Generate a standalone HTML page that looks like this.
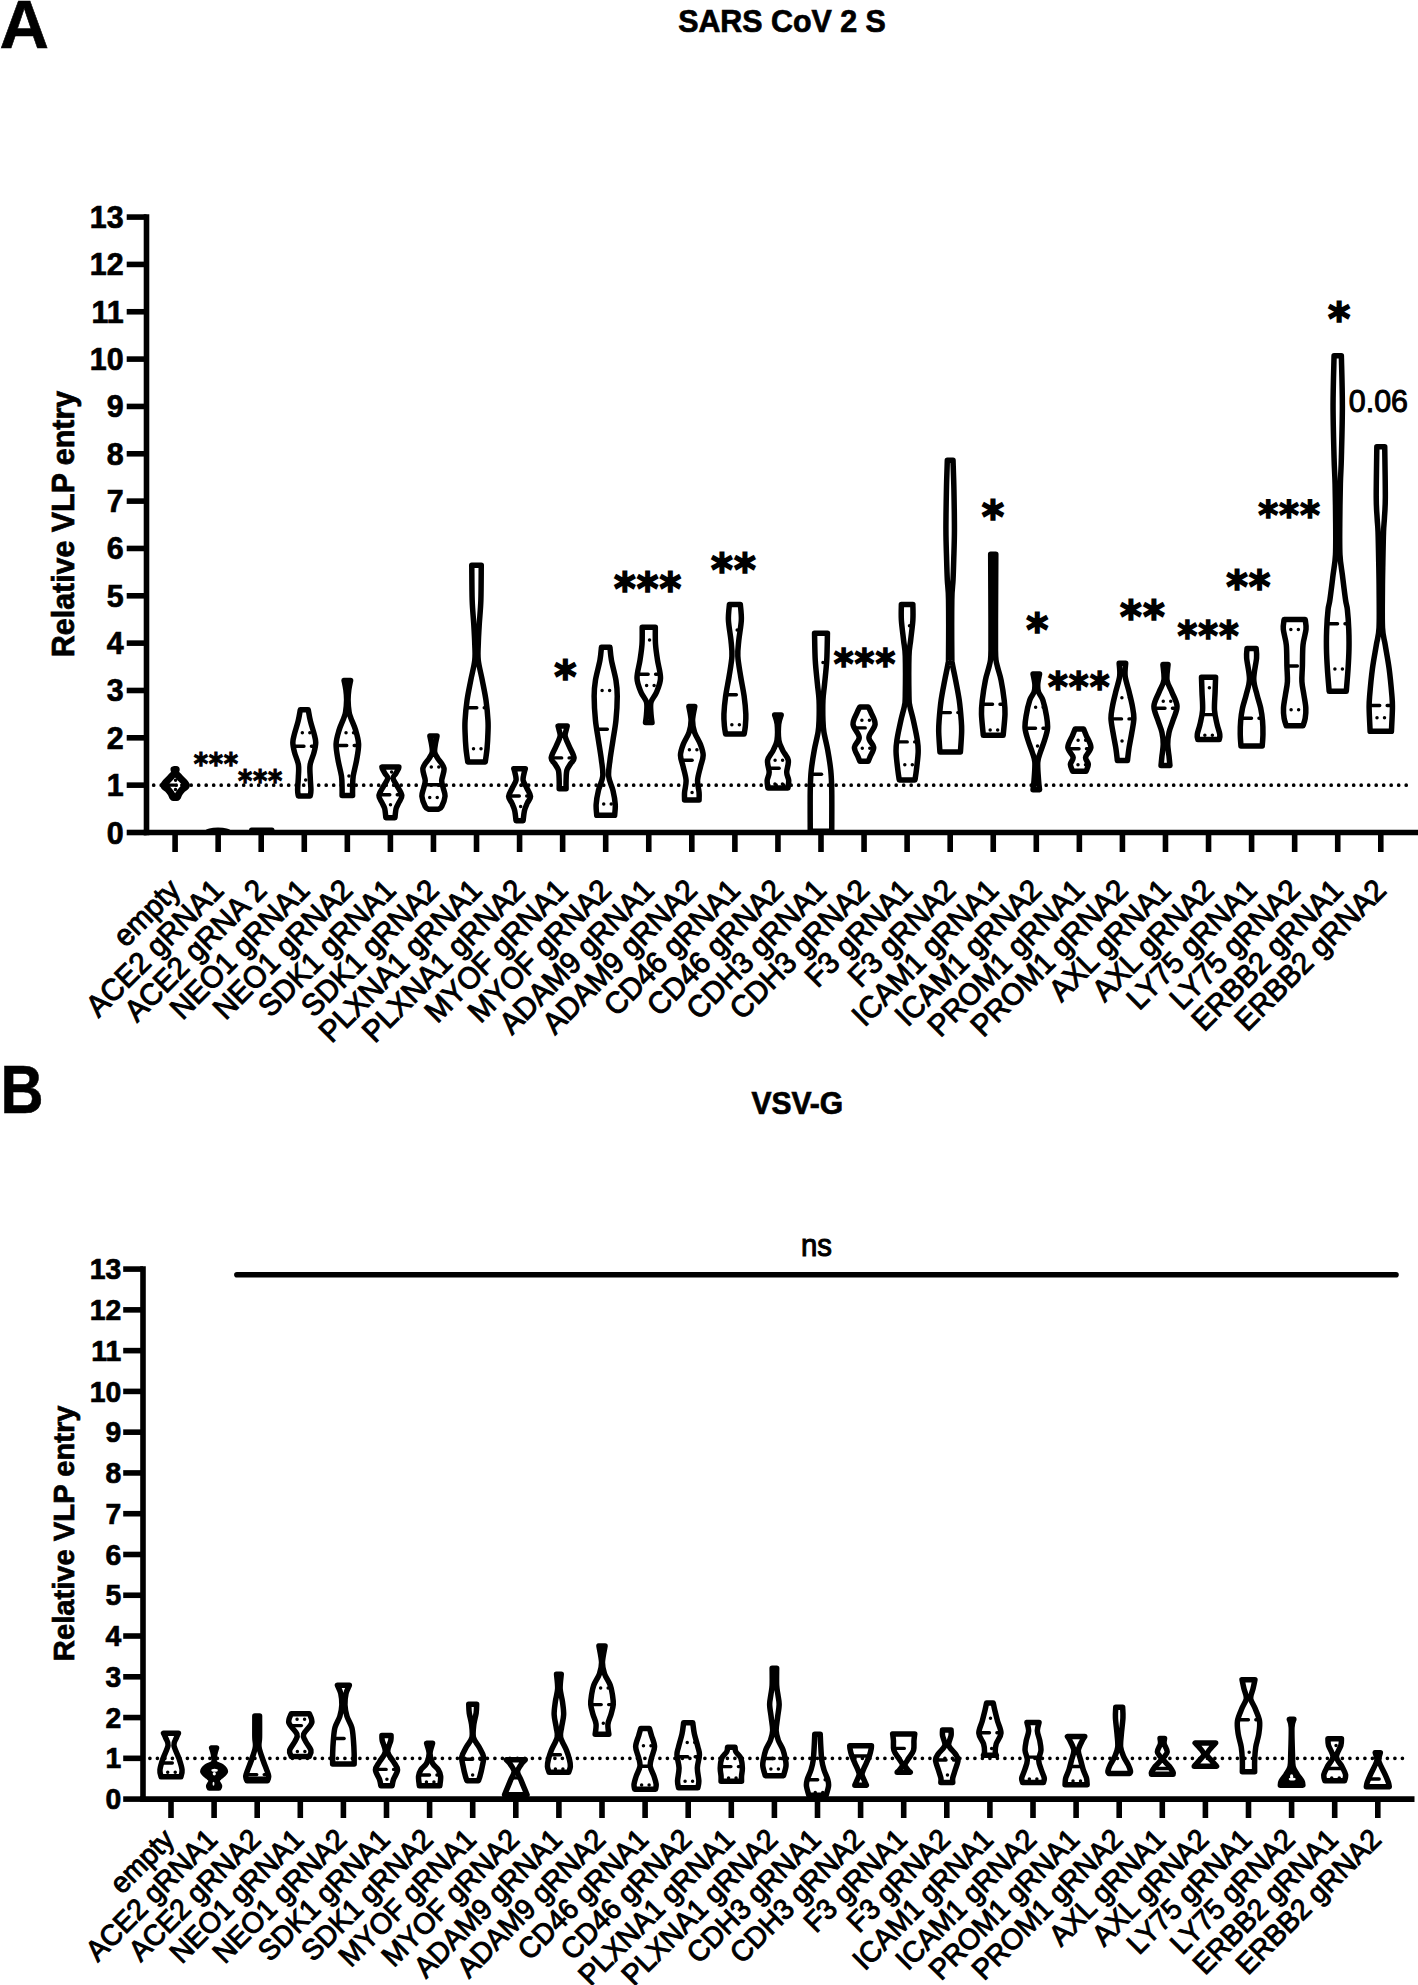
<!DOCTYPE html>
<html lang="en"><head><meta charset="utf-8"><title>Relative VLP entry</title>
<style>
html,body{margin:0;padding:0;background:#fff;}
body{width:1418px;height:1985px;overflow:hidden;}
svg{display:block;}
text{font-family:"Liberation Sans",sans-serif;fill:#000;}
.b{font-weight:700;font-size:30.4px;stroke:#000;stroke-width:0.7px;}
.r{font-weight:400;font-size:29.3px;stroke:#000;stroke-width:1px;}
.rb{font-size:28.1px;}
.bb{font-size:29.2px;}
.tb{font-size:28.3px;}
.pl{font-weight:700;font-size:68.5px;stroke:#000;stroke-width:0.6px;}
.st{font-family:"DejaVu Sans","Liberation Sans",sans-serif;font-weight:700;stroke:#000;stroke-linejoin:miter;}
.ax{stroke:#000;stroke-width:5.6;fill:none;}
.dot{stroke:#000;stroke-width:3.7;stroke-linecap:round;stroke-dasharray:0 7.5;fill:none;}
.v{stroke:#000;stroke-linejoin:round;}
.v{fill:none;}
.med{stroke:#000;stroke-width:3.4;stroke-linecap:round;}
.qd{stroke:#000;stroke-width:3.5;stroke-linecap:round;stroke-dasharray:0 7.5;}
</style></head><body>
<svg width="1418" height="1985" viewBox="0 0 1418 1985">
<rect width="1418" height="1985" fill="#fff"/>
<text x="-0.6" y="48" class="pl">A</text>
<text transform="translate(0.5 1113.3) scale(0.87 1)" class="pl">B</text>
<text transform="translate(782 32.2) scale(1 1.04)" class="b" text-anchor="middle">SARS CoV 2 S</text>
<text transform="translate(797.3 1113.6) scale(1 1.04)" class="b" style="font-size:30px" text-anchor="middle">VSV-G</text>
<line x1="146.5" y1="214.28" x2="146.5" y2="835.3" class="ax"/>
<line x1="143.7" y1="832.5" x2="1418" y2="832.5" class="ax"/>
<line x1="126.7" y1="832.5" x2="146.5" y2="832.5" class="ax"/>
<text transform="translate(123.6 843.5) scale(1 1.04)" class="b" text-anchor="end">0</text>
<line x1="126.7" y1="785.16" x2="146.5" y2="785.16" class="ax"/>
<text transform="translate(123.6 796.16) scale(1 1.04)" class="b" text-anchor="end">1</text>
<line x1="126.7" y1="737.82" x2="146.5" y2="737.82" class="ax"/>
<text transform="translate(123.6 748.82) scale(1 1.04)" class="b" text-anchor="end">2</text>
<line x1="126.7" y1="690.48" x2="146.5" y2="690.48" class="ax"/>
<text transform="translate(123.6 701.48) scale(1 1.04)" class="b" text-anchor="end">3</text>
<line x1="126.7" y1="643.14" x2="146.5" y2="643.14" class="ax"/>
<text transform="translate(123.6 654.14) scale(1 1.04)" class="b" text-anchor="end">4</text>
<line x1="126.7" y1="595.8" x2="146.5" y2="595.8" class="ax"/>
<text transform="translate(123.6 606.8) scale(1 1.04)" class="b" text-anchor="end">5</text>
<line x1="126.7" y1="548.46" x2="146.5" y2="548.46" class="ax"/>
<text transform="translate(123.6 559.46) scale(1 1.04)" class="b" text-anchor="end">6</text>
<line x1="126.7" y1="501.12" x2="146.5" y2="501.12" class="ax"/>
<text transform="translate(123.6 512.12) scale(1 1.04)" class="b" text-anchor="end">7</text>
<line x1="126.7" y1="453.78" x2="146.5" y2="453.78" class="ax"/>
<text transform="translate(123.6 464.78) scale(1 1.04)" class="b" text-anchor="end">8</text>
<line x1="126.7" y1="406.44" x2="146.5" y2="406.44" class="ax"/>
<text transform="translate(123.6 417.44) scale(1 1.04)" class="b" text-anchor="end">9</text>
<line x1="126.7" y1="359.1" x2="146.5" y2="359.1" class="ax"/>
<text transform="translate(123.6 370.1) scale(1 1.04)" class="b" text-anchor="end">10</text>
<line x1="126.7" y1="311.76" x2="146.5" y2="311.76" class="ax"/>
<text transform="translate(123.6 322.76) scale(1 1.04)" class="b" text-anchor="end">11</text>
<line x1="126.7" y1="264.42" x2="146.5" y2="264.42" class="ax"/>
<text transform="translate(123.6 275.42) scale(1 1.04)" class="b" text-anchor="end">12</text>
<line x1="126.7" y1="217.08" x2="146.5" y2="217.08" class="ax"/>
<text transform="translate(123.6 228.08) scale(1 1.04)" class="b" text-anchor="end">13</text>
<line x1="175.1" y1="832.5" x2="175.1" y2="852" class="ax"/>
<text transform="translate(182.1 892) rotate(-45) scale(1 1.04)" class="r" text-anchor="end">empty</text>
<line x1="218.16" y1="832.5" x2="218.16" y2="852" class="ax"/>
<text transform="translate(225.16 892) rotate(-45) scale(1 1.04)" class="r" text-anchor="end">ACE2 gRNA1</text>
<line x1="261.22" y1="832.5" x2="261.22" y2="852" class="ax"/>
<text transform="translate(268.22 892) rotate(-45) scale(1 1.04)" class="r" text-anchor="end">ACE2 gRNA 2</text>
<line x1="304.28" y1="832.5" x2="304.28" y2="852" class="ax"/>
<text transform="translate(311.28 892) rotate(-45) scale(1 1.04)" class="r" text-anchor="end">NEO1 gRNA1</text>
<line x1="347.34" y1="832.5" x2="347.34" y2="852" class="ax"/>
<text transform="translate(354.34 892) rotate(-45) scale(1 1.04)" class="r" text-anchor="end">NEO1 gRNA2</text>
<line x1="390.4" y1="832.5" x2="390.4" y2="852" class="ax"/>
<text transform="translate(397.4 892) rotate(-45) scale(1 1.04)" class="r" text-anchor="end">SDK1 gRNA1</text>
<line x1="433.46" y1="832.5" x2="433.46" y2="852" class="ax"/>
<text transform="translate(440.46 892) rotate(-45) scale(1 1.04)" class="r" text-anchor="end">SDK1 gRNA2</text>
<line x1="476.52" y1="832.5" x2="476.52" y2="852" class="ax"/>
<text transform="translate(483.52 892) rotate(-45) scale(1 1.04)" class="r" text-anchor="end">PLXNA1 gRNA1</text>
<line x1="519.58" y1="832.5" x2="519.58" y2="852" class="ax"/>
<text transform="translate(526.58 892) rotate(-45) scale(1 1.04)" class="r" text-anchor="end">PLXNA1 gRNA2</text>
<line x1="562.64" y1="832.5" x2="562.64" y2="852" class="ax"/>
<text transform="translate(569.64 892) rotate(-45) scale(1 1.04)" class="r" text-anchor="end">MYOF gRNA1</text>
<line x1="605.7" y1="832.5" x2="605.7" y2="852" class="ax"/>
<text transform="translate(612.7 892) rotate(-45) scale(1 1.04)" class="r" text-anchor="end">MYOF gRNA2</text>
<line x1="648.76" y1="832.5" x2="648.76" y2="852" class="ax"/>
<text transform="translate(655.76 892) rotate(-45) scale(1 1.04)" class="r" text-anchor="end">ADAM9 gRNA1</text>
<line x1="691.82" y1="832.5" x2="691.82" y2="852" class="ax"/>
<text transform="translate(698.82 892) rotate(-45) scale(1 1.04)" class="r" text-anchor="end">ADAM9 gRNA2</text>
<line x1="734.88" y1="832.5" x2="734.88" y2="852" class="ax"/>
<text transform="translate(741.88 892) rotate(-45) scale(1 1.04)" class="r" text-anchor="end">CD46 gRNA1</text>
<line x1="777.94" y1="832.5" x2="777.94" y2="852" class="ax"/>
<text transform="translate(784.94 892) rotate(-45) scale(1 1.04)" class="r" text-anchor="end">CD46 gRNA2</text>
<line x1="821" y1="832.5" x2="821" y2="852" class="ax"/>
<text transform="translate(828 892) rotate(-45) scale(1 1.04)" class="r" text-anchor="end">CDH3 gRNA1</text>
<line x1="864.06" y1="832.5" x2="864.06" y2="852" class="ax"/>
<text transform="translate(871.06 892) rotate(-45) scale(1 1.04)" class="r" text-anchor="end">CDH3 gRNA2</text>
<line x1="907.12" y1="832.5" x2="907.12" y2="852" class="ax"/>
<text transform="translate(914.12 892) rotate(-45) scale(1 1.04)" class="r" text-anchor="end">F3 gRNA1</text>
<line x1="950.18" y1="832.5" x2="950.18" y2="852" class="ax"/>
<text transform="translate(957.18 892) rotate(-45) scale(1 1.04)" class="r" text-anchor="end">F3 gRNA2</text>
<line x1="993.24" y1="832.5" x2="993.24" y2="852" class="ax"/>
<text transform="translate(1000.24 892) rotate(-45) scale(1 1.04)" class="r" text-anchor="end">ICAM1 gRNA1</text>
<line x1="1036.3" y1="832.5" x2="1036.3" y2="852" class="ax"/>
<text transform="translate(1043.3 892) rotate(-45) scale(1 1.04)" class="r" text-anchor="end">ICAM1 gRNA2</text>
<line x1="1079.36" y1="832.5" x2="1079.36" y2="852" class="ax"/>
<text transform="translate(1086.36 892) rotate(-45) scale(1 1.04)" class="r" text-anchor="end">PROM1 gRNA1</text>
<line x1="1122.42" y1="832.5" x2="1122.42" y2="852" class="ax"/>
<text transform="translate(1129.42 892) rotate(-45) scale(1 1.04)" class="r" text-anchor="end">PROM1 gRNA2</text>
<line x1="1165.48" y1="832.5" x2="1165.48" y2="852" class="ax"/>
<text transform="translate(1172.48 892) rotate(-45) scale(1 1.04)" class="r" text-anchor="end">AXL gRNA1</text>
<line x1="1208.54" y1="832.5" x2="1208.54" y2="852" class="ax"/>
<text transform="translate(1215.54 892) rotate(-45) scale(1 1.04)" class="r" text-anchor="end">AXL gRNA2</text>
<line x1="1251.6" y1="832.5" x2="1251.6" y2="852" class="ax"/>
<text transform="translate(1258.6 892) rotate(-45) scale(1 1.04)" class="r" text-anchor="end">LY75 gRNA1</text>
<line x1="1294.66" y1="832.5" x2="1294.66" y2="852" class="ax"/>
<text transform="translate(1301.66 892) rotate(-45) scale(1 1.04)" class="r" text-anchor="end">LY75 gRNA2</text>
<line x1="1337.72" y1="832.5" x2="1337.72" y2="852" class="ax"/>
<text transform="translate(1344.72 892) rotate(-45) scale(1 1.04)" class="r" text-anchor="end">ERBB2 gRNA1</text>
<line x1="1380.78" y1="832.5" x2="1380.78" y2="852" class="ax"/>
<text transform="translate(1387.78 892) rotate(-45) scale(1 1.04)" class="r" text-anchor="end">ERBB2 gRNA2</text>
<line x1="153.7" y1="785.16" x2="1412.5" y2="785.16" class="dot" stroke-dasharray="0 7.488"/>
<text transform="translate(74 524) rotate(-90) scale(1 1.04)" class="b" text-anchor="middle">Relative VLP entry</text>
<line x1="143" y1="1266.29" x2="143" y2="1801.9" class="ax"/>
<line x1="140.2" y1="1799.1" x2="1414.5" y2="1799.1" class="ax"/>
<line x1="123.2" y1="1799.1" x2="143" y2="1799.1" class="ax"/>
<text transform="translate(121.2 1809.2) scale(1 1.04)" class="b tb" text-anchor="end">0</text>
<line x1="123.2" y1="1758.33" x2="143" y2="1758.33" class="ax"/>
<text transform="translate(121.2 1768.43) scale(1 1.04)" class="b tb" text-anchor="end">1</text>
<line x1="123.2" y1="1717.56" x2="143" y2="1717.56" class="ax"/>
<text transform="translate(121.2 1727.66) scale(1 1.04)" class="b tb" text-anchor="end">2</text>
<line x1="123.2" y1="1676.79" x2="143" y2="1676.79" class="ax"/>
<text transform="translate(121.2 1686.89) scale(1 1.04)" class="b tb" text-anchor="end">3</text>
<line x1="123.2" y1="1636.02" x2="143" y2="1636.02" class="ax"/>
<text transform="translate(121.2 1646.12) scale(1 1.04)" class="b tb" text-anchor="end">4</text>
<line x1="123.2" y1="1595.25" x2="143" y2="1595.25" class="ax"/>
<text transform="translate(121.2 1605.35) scale(1 1.04)" class="b tb" text-anchor="end">5</text>
<line x1="123.2" y1="1554.48" x2="143" y2="1554.48" class="ax"/>
<text transform="translate(121.2 1564.58) scale(1 1.04)" class="b tb" text-anchor="end">6</text>
<line x1="123.2" y1="1513.71" x2="143" y2="1513.71" class="ax"/>
<text transform="translate(121.2 1523.81) scale(1 1.04)" class="b tb" text-anchor="end">7</text>
<line x1="123.2" y1="1472.94" x2="143" y2="1472.94" class="ax"/>
<text transform="translate(121.2 1483.04) scale(1 1.04)" class="b tb" text-anchor="end">8</text>
<line x1="123.2" y1="1432.17" x2="143" y2="1432.17" class="ax"/>
<text transform="translate(121.2 1442.27) scale(1 1.04)" class="b tb" text-anchor="end">9</text>
<line x1="123.2" y1="1391.4" x2="143" y2="1391.4" class="ax"/>
<text transform="translate(121.2 1401.5) scale(1 1.04)" class="b tb" text-anchor="end">10</text>
<line x1="123.2" y1="1350.63" x2="143" y2="1350.63" class="ax"/>
<text transform="translate(121.2 1360.73) scale(1 1.04)" class="b tb" text-anchor="end">11</text>
<line x1="123.2" y1="1309.86" x2="143" y2="1309.86" class="ax"/>
<text transform="translate(121.2 1319.96) scale(1 1.04)" class="b tb" text-anchor="end">12</text>
<line x1="123.2" y1="1269.09" x2="143" y2="1269.09" class="ax"/>
<text transform="translate(121.2 1279.19) scale(1 1.04)" class="b tb" text-anchor="end">13</text>
<line x1="171" y1="1799.1" x2="171" y2="1818" class="ax"/>
<text transform="translate(176 1841.2) rotate(-45) scale(1 1.04)" class="r rb" text-anchor="end">empty</text>
<line x1="214.1" y1="1799.1" x2="214.1" y2="1818" class="ax"/>
<text transform="translate(219.1 1841.2) rotate(-45) scale(1 1.04)" class="r rb" text-anchor="end">ACE2 gRNA1</text>
<line x1="257.2" y1="1799.1" x2="257.2" y2="1818" class="ax"/>
<text transform="translate(262.2 1841.2) rotate(-45) scale(1 1.04)" class="r rb" text-anchor="end">ACE2 gRNA2</text>
<line x1="300.3" y1="1799.1" x2="300.3" y2="1818" class="ax"/>
<text transform="translate(305.3 1841.2) rotate(-45) scale(1 1.04)" class="r rb" text-anchor="end">NEO1 gRNA1</text>
<line x1="343.4" y1="1799.1" x2="343.4" y2="1818" class="ax"/>
<text transform="translate(348.4 1841.2) rotate(-45) scale(1 1.04)" class="r rb" text-anchor="end">NEO1 gRNA2</text>
<line x1="386.5" y1="1799.1" x2="386.5" y2="1818" class="ax"/>
<text transform="translate(391.5 1841.2) rotate(-45) scale(1 1.04)" class="r rb" text-anchor="end">SDK1 gRNA1</text>
<line x1="429.6" y1="1799.1" x2="429.6" y2="1818" class="ax"/>
<text transform="translate(434.6 1841.2) rotate(-45) scale(1 1.04)" class="r rb" text-anchor="end">SDK1 gRNA2</text>
<line x1="472.7" y1="1799.1" x2="472.7" y2="1818" class="ax"/>
<text transform="translate(477.7 1841.2) rotate(-45) scale(1 1.04)" class="r rb" text-anchor="end">MYOF gRNA1</text>
<line x1="515.8" y1="1799.1" x2="515.8" y2="1818" class="ax"/>
<text transform="translate(520.8 1841.2) rotate(-45) scale(1 1.04)" class="r rb" text-anchor="end">MYOF gRNA2</text>
<line x1="558.9" y1="1799.1" x2="558.9" y2="1818" class="ax"/>
<text transform="translate(563.9 1841.2) rotate(-45) scale(1 1.04)" class="r rb" text-anchor="end">ADAM9 gRNA1</text>
<line x1="602" y1="1799.1" x2="602" y2="1818" class="ax"/>
<text transform="translate(607 1841.2) rotate(-45) scale(1 1.04)" class="r rb" text-anchor="end">ADAM9 gRNA2</text>
<line x1="645.1" y1="1799.1" x2="645.1" y2="1818" class="ax"/>
<text transform="translate(650.1 1841.2) rotate(-45) scale(1 1.04)" class="r rb" text-anchor="end">CD46 gRNA1</text>
<line x1="688.2" y1="1799.1" x2="688.2" y2="1818" class="ax"/>
<text transform="translate(693.2 1841.2) rotate(-45) scale(1 1.04)" class="r rb" text-anchor="end">CD46 gRNA2</text>
<line x1="731.3" y1="1799.1" x2="731.3" y2="1818" class="ax"/>
<text transform="translate(736.3 1841.2) rotate(-45) scale(1 1.04)" class="r rb" text-anchor="end">PLXNA1 gRNA1</text>
<line x1="774.4" y1="1799.1" x2="774.4" y2="1818" class="ax"/>
<text transform="translate(779.4 1841.2) rotate(-45) scale(1 1.04)" class="r rb" text-anchor="end">PLXNA1 gRNA2</text>
<line x1="817.5" y1="1799.1" x2="817.5" y2="1818" class="ax"/>
<text transform="translate(822.5 1841.2) rotate(-45) scale(1 1.04)" class="r rb" text-anchor="end">CDH3 gRNA1</text>
<line x1="860.6" y1="1799.1" x2="860.6" y2="1818" class="ax"/>
<text transform="translate(865.6 1841.2) rotate(-45) scale(1 1.04)" class="r rb" text-anchor="end">CDH3 gRNA2</text>
<line x1="903.7" y1="1799.1" x2="903.7" y2="1818" class="ax"/>
<text transform="translate(908.7 1841.2) rotate(-45) scale(1 1.04)" class="r rb" text-anchor="end">F3 gRNA1</text>
<line x1="946.8" y1="1799.1" x2="946.8" y2="1818" class="ax"/>
<text transform="translate(951.8 1841.2) rotate(-45) scale(1 1.04)" class="r rb" text-anchor="end">F3 gRNA2</text>
<line x1="989.9" y1="1799.1" x2="989.9" y2="1818" class="ax"/>
<text transform="translate(994.9 1841.2) rotate(-45) scale(1 1.04)" class="r rb" text-anchor="end">ICAM1 gRNA1</text>
<line x1="1033" y1="1799.1" x2="1033" y2="1818" class="ax"/>
<text transform="translate(1038 1841.2) rotate(-45) scale(1 1.04)" class="r rb" text-anchor="end">ICAM1 gRNA2</text>
<line x1="1076.1" y1="1799.1" x2="1076.1" y2="1818" class="ax"/>
<text transform="translate(1081.1 1841.2) rotate(-45) scale(1 1.04)" class="r rb" text-anchor="end">PROM1 gRNA1</text>
<line x1="1119.2" y1="1799.1" x2="1119.2" y2="1818" class="ax"/>
<text transform="translate(1124.2 1841.2) rotate(-45) scale(1 1.04)" class="r rb" text-anchor="end">PROM1 gRNA2</text>
<line x1="1162.3" y1="1799.1" x2="1162.3" y2="1818" class="ax"/>
<text transform="translate(1167.3 1841.2) rotate(-45) scale(1 1.04)" class="r rb" text-anchor="end">AXL gRNA1</text>
<line x1="1205.4" y1="1799.1" x2="1205.4" y2="1818" class="ax"/>
<text transform="translate(1210.4 1841.2) rotate(-45) scale(1 1.04)" class="r rb" text-anchor="end">AXL gRNA2</text>
<line x1="1248.5" y1="1799.1" x2="1248.5" y2="1818" class="ax"/>
<text transform="translate(1253.5 1841.2) rotate(-45) scale(1 1.04)" class="r rb" text-anchor="end">LY75 gRNA1</text>
<line x1="1291.6" y1="1799.1" x2="1291.6" y2="1818" class="ax"/>
<text transform="translate(1296.6 1841.2) rotate(-45) scale(1 1.04)" class="r rb" text-anchor="end">LY75 gRNA2</text>
<line x1="1334.7" y1="1799.1" x2="1334.7" y2="1818" class="ax"/>
<text transform="translate(1339.7 1841.2) rotate(-45) scale(1 1.04)" class="r rb" text-anchor="end">ERBB2 gRNA1</text>
<line x1="1377.8" y1="1799.1" x2="1377.8" y2="1818" class="ax"/>
<text transform="translate(1382.8 1841.2) rotate(-45) scale(1 1.04)" class="r rb" text-anchor="end">ERBB2 gRNA2</text>
<line x1="149.9" y1="1758.33" x2="1409.8" y2="1758.33" class="dot" stroke-dasharray="0 7.236"/>
<text transform="translate(74.3 1533.3) rotate(-90) scale(1 1.04)" class="b bb" text-anchor="middle">Relative VLP entry</text>
<line x1="236.9" y1="1274.8" x2="1396" y2="1274.8" class="ax" stroke-linecap="round"/>
<text transform="translate(816.5 1256.2) scale(1 1.04)" class="r" text-anchor="middle">ns</text>
<text transform="translate(1348.8 412.3) scale(1 1.04)" class="r" style="font-size:30.4px">0.06</text>
<text transform="translate(193.66 773.63) scale(0.925 1)" font-size="29.56" letter-spacing="0.83" stroke-width="1.1" class="st">***</text>
<text transform="translate(237.96 791.33) scale(0.921 1)" font-size="29.56" letter-spacing="0.84" stroke-width="1.1" class="st">***</text>
<text transform="translate(554.24 691.76) scale(0.961 1)" font-size="44.24" letter-spacing="0" stroke-width="1.65" class="st">*</text>
<text transform="translate(613.94 604.32) scale(0.915 1)" font-size="45.24" letter-spacing="1.29" stroke-width="1.69" class="st">***</text>
<text transform="translate(710.94 584.76) scale(0.944 1)" font-size="44.24" letter-spacing="1.22" stroke-width="1.65" class="st">**</text>
<text transform="translate(833.75 678.12) scale(0.922 1)" font-size="41.02" letter-spacing="1.16" stroke-width="1.53" class="st">***</text>
<text transform="translate(981.64 531.66) scale(0.966 1)" font-size="44.24" letter-spacing="0" stroke-width="1.65" class="st">*</text>
<text transform="translate(1026.14 644.91) scale(0.957 1)" font-size="44.04" letter-spacing="0" stroke-width="1.64" class="st">*</text>
<text transform="translate(1047.95 701.42) scale(0.934 1)" font-size="40.62" letter-spacing="1.13" stroke-width="1.51" class="st">***</text>
<text transform="translate(1120.04 631.66) scale(0.942 1)" font-size="44.24" letter-spacing="1.22" stroke-width="1.65" class="st">**</text>
<text transform="translate(1177.55 649.93) scale(0.910 1)" font-size="41.42" letter-spacing="1.19" stroke-width="1.55" class="st">***</text>
<text transform="translate(1226.14 601.56) scale(0.933 1)" font-size="44.24" letter-spacing="1.23" stroke-width="1.65" class="st">**</text>
<text transform="translate(1258.15 529.15) scale(0.962 1)" font-size="39.61" letter-spacing="1.07" stroke-width="1.48" class="st">***</text>
<text transform="translate(1327.94 334.17) scale(0.944 1)" font-size="45.04" letter-spacing="0" stroke-width="1.68" class="st">*</text>
<ellipse cx="218" cy="830.6" rx="12.5" ry="3"/>
<rect x="249" y="827.4" width="25.5" height="6" rx="2.5"/>
<line x1="163.8" y1="785.1" x2="183.2" y2="785.1" class="med" stroke-dasharray="10.5 7.4"/>
<line x1="168.08" y1="780.2" x2="182.12" y2="780.2" class="qd"/>
<line x1="168" y1="789.5" x2="182.2" y2="789.5" class="qd"/>
<path d="M176.2 769.6C176.17 769.75 176.12 770 176 770.5C175.88 771 174.8 771.35 175.5 772.6C176.2 773.85 178.38 775.92 180.2 778C182.02 780.08 186.07 783.18 186.4 785.1C186.73 787.02 183.43 788.08 182.2 789.5C180.97 790.92 179.77 792.35 179 793.6C178.23 794.85 177.95 796.33 177.6 797C177.25 797.67 177.02 797.5 176.9 797.6L173.3 797.6C173.18 797.5 172.95 797.67 172.6 797C172.25 796.33 171.97 794.85 171.2 793.6C170.43 792.35 169.23 790.92 168 789.5C166.77 788.08 163.47 787.02 163.8 785.1C164.13 783.18 168.18 780.08 170 778C171.82 775.92 174 773.85 174.7 772.6C175.4 771.35 174.32 771 174.2 770.5C174.08 770 174.03 769.75 174 769.6Z" class="v" stroke-width="7.0"/>
<line x1="293.48" y1="746.2" x2="312.63" y2="746.2" class="med" stroke-dasharray="10.5 7.4"/>
<line x1="294.82" y1="732.7" x2="313.74" y2="732.7" class="qd"/>
<line x1="298.18" y1="780.1" x2="310.38" y2="780.1" class="qd"/>
<path d="M308.23 709.65C308.6 711.58 309.46 717.19 310.43 721.2C311.4 725.21 313.15 730.17 314.03 733.7C314.91 737.23 315.73 739.28 315.73 742.4C315.73 745.52 314.96 748.65 314.03 752.4C313.1 756.15 310.76 760.73 310.13 764.9C309.5 769.07 310.1 773.23 310.23 777.4C310.36 781.57 310.93 786.79 310.93 789.9C310.93 793.01 310.35 795.02 310.23 796.05L298.33 796.05C298.21 795.02 297.63 793.01 297.63 789.9C297.63 786.79 298.2 781.57 298.33 777.4C298.46 773.23 299.06 769.07 298.43 764.9C297.8 760.73 295.46 756.15 294.53 752.4C293.6 748.65 292.83 745.52 292.83 742.4C292.83 739.28 293.65 737.23 294.53 733.7C295.41 730.17 297.16 725.21 298.13 721.2C299.1 717.19 299.96 711.58 300.33 709.65Z" class="v" stroke-width="5.5"/>
<line x1="336.26" y1="745.5" x2="355.97" y2="745.5" class="med" stroke-dasharray="10.5 7.4"/>
<line x1="338.53" y1="732.7" x2="356.15" y2="732.7" class="qd"/>
<line x1="341.45" y1="776" x2="353.23" y2="776" class="qd"/>
<path d="M350.59 680.45C350.29 682.04 349.21 686.74 348.79 690C348.37 693.26 348.04 696.33 348.09 700C348.14 703.67 348.62 708.98 349.09 712C349.56 715.02 349.81 715.08 350.89 718.1C351.97 721.12 354.31 725.77 355.59 730.1C356.87 734.43 358.42 739.08 358.59 744.1C358.76 749.12 357.49 754.85 356.59 760.2C355.69 765.55 353.86 771.53 353.19 776.2C352.52 780.87 352.69 784.99 352.59 788.2C352.49 791.41 352.59 794.24 352.59 795.45L342.09 795.45C342.09 794.24 342.19 791.41 342.09 788.2C341.99 784.99 342.16 780.87 341.49 776.2C340.82 771.53 338.99 765.55 338.09 760.2C337.19 754.85 335.92 749.12 336.09 744.1C336.26 739.08 337.81 734.43 339.09 730.1C340.37 725.77 342.71 721.12 343.79 718.1C344.87 715.08 345.12 715.02 345.59 712C346.06 708.98 346.54 703.67 346.59 700C346.64 696.33 346.31 693.26 345.89 690C345.47 686.74 344.39 682.04 344.09 680.45Z" class="v" stroke-width="5.5"/>
<line x1="379.3" y1="794.8" x2="399.05" y2="794.8" class="med" stroke-dasharray="10.5 7.4"/>
<line x1="384.1" y1="771.9" x2="396.7" y2="771.9" class="qd"/>
<line x1="382.98" y1="804.8" x2="397.82" y2="804.8" class="qd"/>
<path d="M398.85 767.05C398.75 767.38 398.75 767.92 398.25 769C397.75 770.08 396.72 771.95 395.85 773.5C394.98 775.05 392.83 776.22 393.05 778.3C393.27 780.38 395.68 783.13 397.15 786C398.62 788.87 401.6 792.67 401.85 795.5C402.1 798.33 399.6 800.85 398.65 803C397.7 805.15 396.77 805.96 396.15 808.4C395.53 810.84 395.15 816.11 394.95 817.65L385.85 817.65C385.65 816.11 385.27 810.84 384.65 808.4C384.03 805.96 383.1 805.15 382.15 803C381.2 800.85 378.7 798.33 378.95 795.5C379.2 792.67 382.18 788.87 383.65 786C385.12 783.13 387.53 780.38 387.75 778.3C387.97 776.22 385.82 775.05 384.95 773.5C384.08 771.95 383.05 770.08 382.55 769C382.05 767.92 382.05 767.38 381.95 767.05Z" class="v" stroke-width="5.5"/>
<line x1="424.35" y1="784.7" x2="442.57" y2="784.7" class="med"/>
<line x1="423.79" y1="766.9" x2="443.13" y2="766.9" class="qd"/>
<line x1="422.24" y1="797.4" x2="444.68" y2="797.4" class="qd"/>
<path d="M437.01 736.05C436.71 737.54 435.59 742.29 435.21 745C434.83 747.71 434.29 750.08 434.71 752.3C435.13 754.52 436.16 755.63 437.71 758.3C439.26 760.97 443.34 764.63 444.01 768.3C444.68 771.97 441.84 777.02 441.71 780.3C441.58 783.58 442.66 785.32 443.21 788C443.76 790.68 445.26 793.33 445.01 796.4C444.76 799.47 442.81 804.26 441.71 806.4C440.61 808.54 438.96 808.77 438.41 809.25L428.51 809.25C427.96 808.77 426.31 808.54 425.21 806.4C424.11 804.26 422.16 799.47 421.91 796.4C421.66 793.33 423.16 790.68 423.71 788C424.26 785.32 425.34 783.58 425.21 780.3C425.08 777.02 422.24 771.97 422.91 768.3C423.58 764.63 427.66 760.97 429.21 758.3C430.76 755.63 431.79 754.52 432.21 752.3C432.63 750.08 432.09 747.71 431.71 745C431.33 742.29 430.21 737.54 429.91 736.05Z" class="v" stroke-width="5.5"/>
<line x1="466.31" y1="707.8" x2="484.28" y2="707.8" class="med" stroke-dasharray="10.5 7.4"/>
<line x1="466.01" y1="748.7" x2="487.03" y2="748.7" class="qd"/>
<path d="M481.27 565.15C481.2 570.98 481.2 590.27 480.87 600.1C480.54 609.93 479.7 616.77 479.27 624.1C478.84 631.43 478.44 638.08 478.27 644.1C478.1 650.12 477.6 654.18 478.27 660.2C478.94 666.22 480.99 673.53 482.27 680.2C483.55 686.87 485.02 693.52 485.97 700.2C486.92 706.88 487.64 714.95 487.97 720.3C488.3 725.65 488.12 727.63 487.97 732.3C487.82 736.97 487.52 743.36 487.07 748.3C486.62 753.24 485.57 759.68 485.27 761.95L467.77 761.95C467.47 759.68 466.42 753.24 465.97 748.3C465.52 743.36 465.22 736.97 465.07 732.3C464.92 727.63 464.74 725.65 465.07 720.3C465.4 714.95 466.12 706.88 467.07 700.2C468.02 693.52 469.49 686.87 470.77 680.2C472.05 673.53 474.1 666.22 474.77 660.2C475.44 654.18 474.94 650.12 474.77 644.1C474.6 638.08 474.2 631.43 473.77 624.1C473.34 616.77 472.5 609.93 472.17 600.1C471.84 590.27 471.84 570.98 471.77 565.15Z" class="v" stroke-width="5.5"/>
<line x1="508.81" y1="796" x2="527.9" y2="796" class="med" stroke-dasharray="10.5 7.4"/>
<line x1="513.63" y1="785.3" x2="525.53" y2="785.3" class="qd"/>
<line x1="513.12" y1="806.4" x2="526.04" y2="806.4" class="qd"/>
<path d="M525.33 768.65C525.13 769.38 524.5 771.06 524.13 773C523.76 774.94 522.68 777.8 523.13 780.3C523.58 782.8 525.6 785.32 526.83 788C528.06 790.68 530.45 793.9 530.53 796.4C530.61 798.9 528.33 800.67 527.33 803C526.33 805.33 525.23 807.46 524.53 810.4C523.83 813.34 523.36 818.94 523.13 820.65L516.03 820.65C515.8 818.94 515.33 813.34 514.63 810.4C513.93 807.46 512.83 805.33 511.83 803C510.83 800.67 508.55 798.9 508.63 796.4C508.71 793.9 511.1 790.68 512.33 788C513.56 785.32 515.58 782.8 516.03 780.3C516.48 777.8 515.4 774.94 515.03 773C514.66 771.06 514.03 769.38 513.83 768.65Z" class="v" stroke-width="5.5"/>
<line x1="551.19" y1="757.9" x2="571.64" y2="757.9" class="med" stroke-dasharray="10.5 7.4"/>
<path d="M567.19 726.05C567.02 726.71 566.52 728.29 566.19 730C565.86 731.71 564.69 733.58 565.19 736.3C565.69 739.02 567.71 742.7 569.19 746.3C570.67 749.9 573.89 754.95 574.09 757.9C574.29 760.85 571.59 761.93 570.39 764C569.19 766.07 567.61 767.58 566.89 770.3C566.17 773.02 566.22 777.24 566.09 780.3C565.96 783.36 566.09 787.26 566.09 788.65L559.19 788.65C559.19 787.26 559.32 783.36 559.19 780.3C559.06 777.24 559.11 773.02 558.39 770.3C557.67 767.58 556.09 766.07 554.89 764C553.69 761.93 550.99 760.85 551.19 757.9C551.39 754.95 554.61 749.9 556.09 746.3C557.57 742.7 559.59 739.02 560.09 736.3C560.59 733.58 559.42 731.71 559.09 730C558.76 728.29 558.26 726.71 558.09 726.05Z" class="v" stroke-width="5.5"/>
<line x1="596.8" y1="729.3" x2="612.15" y2="729.3" class="med" stroke-dasharray="10.5 7.4"/>
<line x1="594.61" y1="690.6" x2="616.8" y2="690.6" class="qd"/>
<line x1="596.22" y1="804" x2="615.18" y2="804" class="qd"/>
<path d="M609.95 647.25C610.2 649.41 610.45 654.71 611.45 660.2C612.45 665.69 614.98 674.2 615.95 680.2C616.92 686.2 617.25 689.52 617.25 696.2C617.25 702.88 616.67 712.95 615.95 720.3C615.23 727.65 613.95 733.63 612.95 740.3C611.95 746.97 610.67 754.3 609.95 760.3C609.23 766.3 608.15 771.28 608.65 776.3C609.15 781.32 611.85 785.72 612.95 790.4C614.05 795.08 614.97 800.26 615.25 804.4C615.53 808.54 614.75 813.44 614.65 815.25L596.75 815.25C596.65 813.44 595.87 808.54 596.15 804.4C596.43 800.26 597.35 795.08 598.45 790.4C599.55 785.72 602.25 781.32 602.75 776.3C603.25 771.28 602.17 766.3 601.45 760.3C600.73 754.3 599.45 746.97 598.45 740.3C597.45 733.63 596.17 727.65 595.45 720.3C594.73 712.95 594.15 702.88 594.15 696.2C594.15 689.52 594.48 686.2 595.45 680.2C596.42 674.2 598.95 665.69 599.95 660.2C600.95 654.71 601.2 649.41 601.45 647.25Z" class="v" stroke-width="5.5"/>
<line x1="637.68" y1="674.2" x2="657.39" y2="674.2" class="med" stroke-dasharray="10.5 7.4"/>
<line x1="642.05" y1="640.1" x2="655.47" y2="640.1" class="qd"/>
<line x1="639.12" y1="685.6" x2="658.4" y2="685.6" class="qd"/>
<path d="M655.31 627.25C655.34 630.06 655.14 638.61 655.51 644.1C655.88 649.59 656.68 654.52 657.51 660.2C658.34 665.88 660.68 672.87 660.51 678.2C660.34 683.53 658.09 688.2 656.51 692.2C654.93 696.2 651.93 698.53 651.01 702.2C650.09 705.87 650.84 710.81 651.01 714.2C651.18 717.59 651.84 721.16 652.01 722.55L645.51 722.55C645.68 721.16 646.34 717.59 646.51 714.2C646.68 710.81 647.43 705.87 646.51 702.2C645.59 698.53 642.59 696.2 641.01 692.2C639.43 688.2 637.18 683.53 637.01 678.2C636.84 672.87 639.18 665.88 640.01 660.2C640.84 654.52 641.64 649.59 642.01 644.1C642.38 638.61 642.18 630.06 642.21 627.25Z" class="v" stroke-width="5.5"/>
<line x1="681.65" y1="760.3" x2="699.54" y2="760.3" class="med" stroke-dasharray="10.5 7.4"/>
<line x1="681.9" y1="749.7" x2="701.74" y2="749.7" class="qd"/>
<line x1="684.57" y1="792.4" x2="699.07" y2="792.4" class="qd"/>
<path d="M694.77 706.55C694.4 708.84 692.6 716.01 692.57 720.3C692.54 724.59 693.27 728.3 694.57 732.3C695.87 736.3 698.94 740.47 700.37 744.3C701.8 748.13 703.14 751.63 703.17 755.3C703.2 758.97 701.5 762.13 700.57 766.3C699.64 770.47 697.82 775.95 697.57 780.3C697.32 784.65 698.82 789.11 699.07 792.4C699.32 795.69 699.07 798.77 699.07 800.05L684.57 800.05C684.57 798.77 684.32 795.69 684.57 792.4C684.82 789.11 686.32 784.65 686.07 780.3C685.82 775.95 684 770.47 683.07 766.3C682.14 762.13 680.44 758.97 680.47 755.3C680.5 751.63 681.84 748.13 683.27 744.3C684.7 740.47 687.77 736.3 689.07 732.3C690.37 728.3 691.1 724.59 691.07 720.3C691.04 716.01 689.24 708.84 688.87 706.55Z" class="v" stroke-width="5.5"/>
<line x1="725.88" y1="694.8" x2="741.43" y2="694.8" class="med" stroke-dasharray="10.5 7.4"/>
<line x1="729.68" y1="630.1" x2="740.08" y2="630.1" class="qd"/>
<line x1="724.36" y1="724.7" x2="745.4" y2="724.7" class="qd"/>
<path d="M740.33 604.45C740.5 607.06 741.58 614.16 741.33 620.1C741.08 626.04 739.41 634.08 738.83 640.1C738.25 646.12 737.53 650.18 737.83 656.2C738.13 662.22 739.58 669.53 740.63 676.2C741.68 682.87 743.26 689.87 744.13 696.2C745 702.53 745.63 709.18 745.83 714.2C746.03 719.22 745.61 723.01 745.33 726.3C745.05 729.59 744.33 732.68 744.13 733.95L725.63 733.95C725.43 732.68 724.71 729.59 724.43 726.3C724.15 723.01 723.73 719.22 723.93 714.2C724.13 709.18 724.76 702.53 725.63 696.2C726.5 689.87 728.08 682.87 729.13 676.2C730.18 669.53 731.63 662.22 731.93 656.2C732.23 650.18 731.51 646.12 730.93 640.1C730.35 634.08 728.68 626.04 728.43 620.1C728.18 614.16 729.26 607.06 729.43 604.45Z" class="v" stroke-width="5.5"/>
<line x1="768.66" y1="768.3" x2="784.77" y2="768.3" class="med" stroke-dasharray="10.5 7.4"/>
<line x1="767.59" y1="760.3" x2="788.29" y2="760.3" class="qd"/>
<line x1="767.44" y1="784" x2="788.44" y2="784" class="qd"/>
<path d="M781.19 714.95C780.77 716.51 779.07 720.07 778.69 724.3C778.31 728.52 778.22 735.97 778.89 740.3C779.56 744.63 781.12 746.97 782.69 750.3C784.26 753.63 787.62 756.63 788.29 760.3C788.96 763.97 786.62 768.97 786.69 772.3C786.76 775.63 788.47 777.67 788.69 780.3C788.91 782.92 788.11 786.76 787.99 788.05L767.89 788.05C767.77 786.76 766.97 782.92 767.19 780.3C767.41 777.67 769.12 775.63 769.19 772.3C769.26 768.97 766.92 763.97 767.59 760.3C768.26 756.63 771.62 753.63 773.19 750.3C774.76 746.97 776.32 744.63 776.99 740.3C777.66 735.97 777.57 728.52 777.19 724.3C776.81 720.07 775.11 716.51 774.69 714.95Z" class="v" stroke-width="5.5"/>
<line x1="811.05" y1="774.3" x2="828.5" y2="774.3" class="med" stroke-dasharray="10.5 7.4"/>
<line x1="815.47" y1="662.6" x2="826.53" y2="662.6" class="qd"/>
<path d="M827.45 633.25C827.33 637.74 827.23 651.71 826.75 660.2C826.27 668.69 825.18 677.53 824.55 684.2C823.92 690.87 823.22 694.18 822.95 700.2C822.68 706.22 822.78 714.95 822.95 720.3C823.12 725.65 823.15 727.3 823.95 732.3C824.75 737.3 826.62 743.97 827.75 750.3C828.88 756.63 830.08 763.62 830.75 770.3C831.42 776.98 831.58 780.24 831.75 790.4C831.92 800.56 831.75 824.44 831.75 831.25L810.25 831.25C810.25 824.44 810.08 800.56 810.25 790.4C810.42 780.24 810.58 776.98 811.25 770.3C811.92 763.62 813.12 756.63 814.25 750.3C815.38 743.97 817.25 737.3 818.05 732.3C818.85 727.3 818.88 725.65 819.05 720.3C819.22 714.95 819.32 706.22 819.05 700.2C818.78 694.18 818.08 690.87 817.45 684.2C816.82 677.53 815.73 668.69 815.25 660.2C814.77 651.71 814.67 637.74 814.55 633.25Z" class="v" stroke-width="5.5"/>
<line x1="854.73" y1="727.9" x2="870.94" y2="727.9" class="med" stroke-dasharray="10.5 7.4"/>
<line x1="854.4" y1="720.3" x2="873.72" y2="720.3" class="qd"/>
<line x1="854.79" y1="748.3" x2="873.33" y2="748.3" class="qd"/>
<path d="M868.31 706.95C868.74 707.83 869.78 709.31 870.91 712.2C872.04 715.09 875.44 720.12 875.11 724.3C874.78 728.48 869.14 733.47 868.91 737.3C868.68 741.13 873.48 744.13 873.71 747.3C873.94 750.47 871.21 753.99 870.31 756.3C869.41 758.61 868.64 760.34 868.31 761.15L859.81 761.15C859.48 760.34 858.71 758.61 857.81 756.3C856.91 753.99 854.18 750.47 854.41 747.3C854.64 744.13 859.44 741.13 859.21 737.3C858.98 733.47 853.34 728.48 853.01 724.3C852.68 720.12 856.08 715.09 857.21 712.2C858.34 709.31 859.38 707.83 859.81 706.95Z" class="v" stroke-width="5.5"/>
<line x1="896.76" y1="741.9" x2="915.03" y2="741.9" class="med" stroke-dasharray="10.5 7.4"/>
<line x1="901.99" y1="625.7" x2="912.25" y2="625.7" class="qd"/>
<line x1="897.31" y1="764.7" x2="916.93" y2="764.7" class="qd"/>
<path d="M912.87 604.45C912.87 607.06 913.24 614.16 912.87 620.1C912.5 626.04 911.32 634.08 910.67 640.1C910.02 646.12 909.25 646.85 908.97 656.2C908.69 665.55 908.82 687.87 908.97 696.2C909.12 704.53 909.14 702.18 909.87 706.2C910.6 710.22 912.12 714.62 913.37 720.3C914.62 725.98 916.57 734.97 917.37 740.3C918.17 745.63 918.34 747.3 918.17 752.3C918 757.3 916.9 765.69 916.37 770.3C915.84 774.91 915.2 778.34 914.97 779.95L899.27 779.95C899.04 778.34 898.4 774.91 897.87 770.3C897.34 765.69 896.24 757.3 896.07 752.3C895.9 747.3 896.07 745.63 896.87 740.3C897.67 734.97 899.62 725.98 900.87 720.3C902.12 714.62 903.64 710.22 904.37 706.2C905.1 702.18 905.12 704.53 905.27 696.2C905.42 687.87 905.55 665.55 905.27 656.2C904.99 646.85 904.22 646.12 903.57 640.1C902.92 634.08 901.74 626.04 901.37 620.1C901 614.16 901.37 607.06 901.37 604.45Z" class="v" stroke-width="5.5"/>
<line x1="939.9" y1="712.6" x2="958.01" y2="712.6" class="med" stroke-dasharray="10.5 7.4"/>
<path d="M953.03 460.35C953.18 465.29 953.7 478.38 953.93 490C954.16 501.62 954.46 518.43 954.43 530.1C954.4 541.77 953.96 551.65 953.73 560C953.5 568.35 953.35 573.53 953.03 580.2C952.71 586.87 952.03 587.33 951.83 600C951.63 612.67 951.73 645.5 951.83 656.2C951.93 666.9 951.8 660.2 952.43 664.2C953.06 668.2 954.5 674.2 955.63 680.2C956.76 686.2 958.3 693.52 959.23 700.2C960.16 706.88 960.83 714.95 961.23 720.3C961.63 725.65 961.76 727.02 961.63 732.3C961.5 737.57 960.63 748.68 960.43 751.95L939.93 751.95C939.73 748.68 938.86 737.57 938.73 732.3C938.6 727.02 938.73 725.65 939.13 720.3C939.53 714.95 940.2 706.88 941.13 700.2C942.06 693.52 943.6 686.2 944.73 680.2C945.86 674.2 947.3 668.2 947.93 664.2C948.56 660.2 948.43 666.9 948.53 656.2C948.63 645.5 948.73 612.67 948.53 600C948.33 587.33 947.65 586.87 947.33 580.2C947.01 573.53 946.86 568.35 946.63 560C946.4 551.65 945.96 541.77 945.93 530.1C945.9 518.43 946.2 501.62 946.43 490C946.66 478.38 947.18 465.29 947.33 460.35Z" class="v" stroke-width="5.5"/>
<line x1="982.06" y1="704.2" x2="1001.97" y2="704.2" class="med" stroke-dasharray="10.5 7.4"/>
<line x1="982.68" y1="729.9" x2="1003.8" y2="729.9" class="qd"/>
<path d="M995.79 554.35C995.74 565.31 995.54 604.16 995.49 620.1C995.44 636.04 995.41 643.35 995.49 650C995.57 656.65 995.61 657 995.99 660C996.37 663 996.94 664.63 997.79 668C998.64 671.37 1000.02 674.83 1001.09 680.2C1002.16 685.57 1003.54 694.53 1004.19 700.2C1004.84 705.87 1005.16 708.38 1004.99 714.2C1004.82 720.03 1003.49 731.66 1003.19 735.15L983.29 735.15C982.99 731.66 981.66 720.03 981.49 714.2C981.32 708.38 981.64 705.87 982.29 700.2C982.94 694.53 984.32 685.57 985.39 680.2C986.46 674.83 987.84 671.37 988.69 668C989.54 664.63 990.11 663 990.49 660C990.87 657 990.91 656.65 990.99 650C991.07 643.35 991.04 636.04 990.99 620.1C990.94 604.16 990.74 565.31 990.69 554.35Z" class="v" stroke-width="5.5"/>
<line x1="1025.05" y1="728.3" x2="1045.1" y2="728.3" class="med" stroke-dasharray="10.5 7.4"/>
<line x1="1028.13" y1="707.2" x2="1044.47" y2="707.2" class="qd"/>
<line x1="1030.01" y1="745.9" x2="1042.59" y2="745.9" class="qd"/>
<path d="M1039.55 673.95C1039.25 675.66 1037.92 681.19 1037.75 684.2C1037.58 687.21 1037.7 689.33 1038.55 692C1039.4 694.67 1041.52 696.17 1042.85 700.2C1044.18 704.23 1045.77 711.52 1046.55 716.2C1047.33 720.88 1047.88 724.28 1047.55 728.3C1047.22 732.32 1045.75 736.3 1044.55 740.3C1043.35 744.3 1041.48 748.63 1040.35 752.3C1039.22 755.97 1038.05 757.63 1037.75 762.3C1037.45 766.97 1038.25 775.74 1038.55 780.3C1038.85 784.86 1039.38 788.09 1039.55 789.65L1033.05 789.65C1033.22 788.09 1033.75 784.86 1034.05 780.3C1034.35 775.74 1035.15 766.97 1034.85 762.3C1034.55 757.63 1033.38 755.97 1032.25 752.3C1031.12 748.63 1029.25 744.3 1028.05 740.3C1026.85 736.3 1025.38 732.32 1025.05 728.3C1024.72 724.28 1025.27 720.88 1026.05 716.2C1026.83 711.52 1028.42 704.23 1029.75 700.2C1031.08 696.17 1033.2 694.67 1034.05 692C1034.9 689.33 1035.02 687.21 1034.85 684.2C1034.68 681.19 1033.35 675.66 1033.05 673.95Z" class="v" stroke-width="5.5"/>
<line x1="1068.55" y1="748.7" x2="1087.72" y2="748.7" class="med" stroke-dasharray="10.5 7.4"/>
<line x1="1070.61" y1="740.3" x2="1088.11" y2="740.3" class="qd"/>
<line x1="1070.5" y1="764.7" x2="1088.22" y2="764.7" class="qd"/>
<path d="M1083.61 729.05C1084.03 730.09 1084.89 732.26 1086.11 735.3C1087.33 738.34 1090.99 743.63 1090.91 747.3C1090.83 750.97 1086.04 754.47 1085.61 757.3C1085.18 760.13 1088.23 761.99 1088.31 764.3C1088.39 766.61 1086.48 770.01 1086.11 771.15L1072.61 771.15C1072.24 770.01 1070.33 766.61 1070.41 764.3C1070.49 761.99 1073.54 760.13 1073.11 757.3C1072.68 754.47 1067.89 750.97 1067.81 747.3C1067.73 743.63 1071.39 738.34 1072.61 735.3C1073.83 732.26 1074.69 730.09 1075.11 729.05Z" class="v" stroke-width="5.5"/>
<line x1="1111.06" y1="718.9" x2="1131.33" y2="718.9" class="med" stroke-dasharray="10.5 7.4"/>
<line x1="1114.39" y1="697.8" x2="1130.45" y2="697.8" class="qd"/>
<line x1="1114.53" y1="740.9" x2="1130.31" y2="740.9" class="qd"/>
<path d="M1125.67 663.35C1125.59 665.49 1124.59 671.39 1125.17 676.2C1125.75 681.01 1127.97 687.2 1129.17 692.2C1130.37 697.2 1131.59 701.85 1132.37 706.2C1133.15 710.55 1133.95 713.95 1133.87 718.3C1133.79 722.65 1132.69 727.3 1131.87 732.3C1131.05 737.3 1129.7 743.59 1128.97 748.3C1128.24 753.01 1127.72 758.51 1127.47 760.55L1117.37 760.55C1117.12 758.51 1116.6 753.01 1115.87 748.3C1115.14 743.59 1113.79 737.3 1112.97 732.3C1112.15 727.3 1111.05 722.65 1110.97 718.3C1110.89 713.95 1111.69 710.55 1112.47 706.2C1113.25 701.85 1114.47 697.2 1115.67 692.2C1116.87 687.2 1119.09 681.01 1119.67 676.2C1120.25 671.39 1119.25 665.49 1119.17 663.35Z" class="v" stroke-width="5.5"/>
<line x1="1154.5" y1="708.2" x2="1174.01" y2="708.2" class="med" stroke-dasharray="10.5 7.4"/>
<line x1="1155.75" y1="701.2" x2="1175.21" y2="701.2" class="qd"/>
<path d="M1168.03 664.55C1167.86 667.16 1166.38 675.59 1167.03 680.2C1167.68 684.81 1170.26 687.87 1171.93 692.2C1173.6 696.53 1176.85 701.52 1177.03 706.2C1177.21 710.88 1174.36 715.95 1173.03 720.3C1171.7 724.65 1169.91 728.3 1169.03 732.3C1168.15 736.3 1167.73 740.3 1167.73 744.3C1167.73 748.3 1168.66 752.76 1169.03 756.3C1169.4 759.84 1169.78 764.01 1169.93 765.55L1161.03 765.55C1161.18 764.01 1161.56 759.84 1161.93 756.3C1162.3 752.76 1163.23 748.3 1163.23 744.3C1163.23 740.3 1162.81 736.3 1161.93 732.3C1161.05 728.3 1159.26 724.65 1157.93 720.3C1156.6 715.95 1153.75 710.88 1153.93 706.2C1154.11 701.52 1157.36 696.53 1159.03 692.2C1160.7 687.87 1163.28 684.81 1163.93 680.2C1164.58 675.59 1163.1 667.16 1162.93 664.55Z" class="v" stroke-width="5.5"/>
<line x1="1201.78" y1="714.6" x2="1215.3" y2="714.6" class="med"/>
<line x1="1201.87" y1="687.8" x2="1215.21" y2="687.8" class="qd"/>
<line x1="1197.35" y1="735.3" x2="1219.73" y2="735.3" class="qd"/>
<path d="M1215.59 677.35C1215.51 679.83 1215.27 686.73 1215.09 692.2C1214.91 697.68 1214.16 704.85 1214.49 710.2C1214.82 715.55 1216.21 720.28 1217.09 724.3C1217.97 728.32 1219.42 731.76 1219.79 734.3C1220.16 736.84 1219.37 738.67 1219.29 739.55L1197.79 739.55C1197.71 738.67 1196.92 736.84 1197.29 734.3C1197.66 731.76 1199.11 728.32 1199.99 724.3C1200.87 720.28 1202.26 715.55 1202.59 710.2C1202.92 704.85 1202.17 697.68 1201.99 692.2C1201.81 686.73 1201.57 679.83 1201.49 677.35Z" class="v" stroke-width="5.5"/>
<line x1="1241.04" y1="718.3" x2="1259.71" y2="718.3" class="med" stroke-dasharray="10.5 7.4"/>
<path d="M1256.15 648.45C1256.22 650.06 1256.95 653.01 1256.55 658.1C1256.15 663.19 1253.67 672.88 1253.75 679C1253.83 685.12 1255.9 689.98 1257.05 694.8C1258.2 699.62 1259.73 703.53 1260.65 707.9C1261.57 712.27 1262.17 716.63 1262.55 721C1262.93 725.37 1263 729.94 1262.95 734.1C1262.9 738.26 1262.37 743.98 1262.25 745.95L1240.95 745.95C1240.83 743.98 1240.3 738.26 1240.25 734.1C1240.2 729.94 1240.27 725.37 1240.65 721C1241.03 716.63 1241.63 712.27 1242.55 707.9C1243.47 703.53 1245 699.62 1246.15 694.8C1247.3 689.98 1249.37 685.12 1249.45 679C1249.53 672.88 1247.05 663.19 1246.65 658.1C1246.25 653.01 1246.98 650.06 1247.05 648.45Z" class="v" stroke-width="5.5"/>
<line x1="1286.91" y1="666" x2="1299.96" y2="666" class="med" stroke-dasharray="10.5 7.4"/>
<line x1="1283.35" y1="629.5" x2="1305.97" y2="629.5" class="qd"/>
<line x1="1283.62" y1="709.8" x2="1305.7" y2="709.8" class="qd"/>
<path d="M1305.21 619.55C1305.34 621.17 1306.38 625.06 1306.01 629.3C1305.64 633.54 1303.61 638.88 1303.01 645C1302.41 651.12 1302.59 659.88 1302.41 666C1302.23 672.12 1301.66 676.9 1301.91 681.7C1302.16 686.5 1303.26 690.43 1303.91 694.8C1304.56 699.17 1305.59 703.98 1305.81 707.9C1306.03 711.82 1305.68 715.31 1305.21 718.3C1304.74 721.29 1303.38 724.59 1303.01 725.85L1286.31 725.85C1285.94 724.59 1284.58 721.29 1284.11 718.3C1283.64 715.31 1283.29 711.82 1283.51 707.9C1283.73 703.98 1284.76 699.17 1285.41 694.8C1286.06 690.43 1287.16 686.5 1287.41 681.7C1287.66 676.9 1287.09 672.12 1286.91 666C1286.73 659.88 1286.91 651.12 1286.31 645C1285.71 638.88 1283.68 633.54 1283.31 629.3C1282.94 625.06 1283.98 621.17 1284.11 619.55Z" class="v" stroke-width="5.5"/>
<line x1="1327.06" y1="623.8" x2="1345.93" y2="623.8" class="med" stroke-dasharray="10.5 7.4"/>
<line x1="1327.4" y1="669" x2="1348.04" y2="669" class="qd"/>
<path d="M1341.37 355.85C1341.54 364.12 1342.37 388.49 1342.37 405.5C1342.37 422.51 1341.7 444.82 1341.37 457.9C1341.04 470.98 1340.64 473.1 1340.37 484C1340.1 494.9 1339.84 511.5 1339.77 523.3C1339.7 535.1 1339.52 546.07 1339.97 554.8C1340.42 563.53 1341.54 568.17 1342.47 575.7C1343.4 583.23 1344.75 594.35 1345.57 600C1346.39 605.65 1346.84 604.72 1347.37 609.6C1347.9 614.48 1348.5 622.75 1348.77 629.3C1349.04 635.85 1349.09 642.35 1348.97 648.9C1348.85 655.45 1348.52 661.52 1348.07 668.6C1347.62 675.68 1346.57 687.56 1346.27 691.35L1329.17 691.35C1328.87 687.56 1327.82 675.68 1327.37 668.6C1326.92 661.52 1326.59 655.45 1326.47 648.9C1326.35 642.35 1326.4 635.85 1326.67 629.3C1326.94 622.75 1327.54 614.48 1328.07 609.6C1328.6 604.72 1329.05 605.65 1329.87 600C1330.69 594.35 1332.04 583.23 1332.97 575.7C1333.9 568.17 1335.02 563.53 1335.47 554.8C1335.92 546.07 1335.74 535.1 1335.67 523.3C1335.6 511.5 1335.34 494.9 1335.07 484C1334.8 473.1 1334.4 470.98 1334.07 457.9C1333.74 444.82 1333.07 422.51 1333.07 405.5C1333.07 388.49 1333.9 364.12 1334.07 355.85Z" class="v" stroke-width="5.5"/>
<line x1="1369.24" y1="705.5" x2="1389.87" y2="705.5" class="med" stroke-dasharray="10.5 7.4"/>
<line x1="1369.5" y1="717.7" x2="1392.06" y2="717.7" class="qd"/>
<path d="M1384.73 446.85C1384.83 455.23 1385.38 485.24 1385.33 497.1C1385.28 508.96 1384.73 512.18 1384.43 518C1384.13 523.82 1383.8 524.57 1383.53 532C1383.26 539.43 1383.01 552.93 1382.83 562.6C1382.65 572.27 1382.48 579.1 1382.43 590C1382.38 600.9 1382.06 618.83 1382.53 628C1383 637.17 1384.13 638.23 1385.23 645C1386.33 651.77 1388.03 660.3 1389.13 668.6C1390.23 676.9 1391.28 688.25 1391.83 694.8C1392.38 701.35 1392.5 701.81 1392.43 707.9C1392.36 713.99 1391.6 727.44 1391.43 731.35L1370.13 731.35C1369.96 727.44 1369.2 713.99 1369.13 707.9C1369.06 701.81 1369.18 701.35 1369.73 694.8C1370.28 688.25 1371.33 676.9 1372.43 668.6C1373.53 660.3 1375.23 651.77 1376.33 645C1377.43 638.23 1378.56 637.17 1379.03 628C1379.5 618.83 1379.18 600.9 1379.13 590C1379.08 579.1 1378.91 572.27 1378.73 562.6C1378.55 552.93 1378.3 539.43 1378.03 532C1377.76 524.57 1377.43 523.82 1377.13 518C1376.83 512.18 1376.28 508.96 1376.23 497.1C1376.18 485.24 1376.73 455.23 1376.83 446.85Z" class="v" stroke-width="5.5"/>
<line x1="161.8" y1="1763" x2="177.75" y2="1763" class="med" stroke-dasharray="10.5 7.4"/>
<line x1="160.22" y1="1772.2" x2="181.78" y2="1772.2" class="qd"/>
<path d="M178.45 1733.25C178.08 1734.04 177 1735.97 176.25 1738C175.5 1740.03 173.5 1742 173.95 1745.4C174.4 1748.8 177.6 1754.33 178.95 1758.4C180.3 1762.47 181.72 1766.74 182.05 1769.8C182.38 1772.86 181.13 1775.59 180.95 1776.75L161.05 1776.75C160.87 1775.59 159.62 1772.86 159.95 1769.8C160.28 1766.74 161.7 1762.47 163.05 1758.4C164.4 1754.33 167.6 1748.8 168.05 1745.4C168.5 1742 166.5 1740.03 165.75 1738C165 1735.97 163.92 1734.04 163.55 1733.25Z" class="v" stroke-width="5.5"/>
<path d="M216.55 1747.95C216.38 1748.46 215.88 1749.66 215.55 1751C215.22 1752.34 214.68 1754.02 214.55 1756C214.42 1757.98 213.53 1761.12 214.75 1762.9C215.97 1764.68 220.08 1765.22 221.85 1766.7C223.62 1768.18 225.67 1770.1 225.35 1771.8C225.03 1773.5 221.33 1775.42 219.95 1776.9C218.57 1778.38 217.13 1779.22 217.05 1780.7C216.97 1782.18 219.13 1784.58 219.45 1785.8C219.77 1787.02 219.03 1787.67 218.95 1788.05L209.25 1788.05C209.17 1787.67 208.43 1787.02 208.75 1785.8C209.07 1784.58 211.23 1782.18 211.15 1780.7C211.07 1779.22 209.63 1778.38 208.25 1776.9C206.87 1775.42 203.17 1773.5 202.85 1771.8C202.53 1770.1 204.58 1768.18 206.35 1766.7C208.12 1765.22 212.23 1764.68 213.45 1762.9C214.67 1761.12 213.78 1757.98 213.65 1756C213.52 1754.02 212.98 1752.34 212.65 1751C212.32 1749.66 211.82 1748.46 211.65 1747.95Z" class="v" stroke-width="5.5" style="fill:#000"/>
<ellipse cx="214.6" cy="1770.2" rx="3.2" ry="1.5" fill="#fff"/>
<ellipse cx="214.3" cy="1773.8" rx="1.6" ry="1.8" fill="#fff"/>
<ellipse cx="213.5" cy="1783.8" rx="0.9" ry="2.0" fill="#fff"/>
<line x1="246.27" y1="1774.6" x2="265.68" y2="1774.6" class="med" stroke-dasharray="10.5 7.4"/>
<path d="M259.55 1716.05C259.55 1719.59 259.63 1732.12 259.55 1737.3C259.47 1742.47 258.48 1743.32 259.05 1747.1C259.62 1750.88 261.68 1756.22 262.95 1760C264.22 1763.78 265.7 1767.08 266.65 1769.8C267.6 1772.52 268.52 1774.46 268.65 1776.3C268.78 1778.14 267.65 1780.09 267.45 1780.85L246.95 1780.85C246.75 1780.09 245.62 1778.14 245.75 1776.3C245.88 1774.46 246.8 1772.52 247.75 1769.8C248.7 1767.08 250.18 1763.78 251.45 1760C252.72 1756.22 254.78 1750.88 255.35 1747.1C255.92 1743.32 254.93 1742.47 254.85 1737.3C254.77 1732.12 254.85 1719.59 254.85 1716.05Z" class="v" stroke-width="5.5"/>
<line x1="247.2" y1="1778.2" x2="267.2" y2="1778.2" stroke="#000" stroke-width="3.5"/>
<line x1="290.91" y1="1725.6" x2="307.24" y2="1725.6" class="med" stroke-dasharray="10.5 7.4"/>
<line x1="289.57" y1="1719.2" x2="311.03" y2="1719.2" class="qd"/>
<line x1="289.88" y1="1751.6" x2="310.72" y2="1751.6" class="qd"/>
<path d="M309.35 1713.75C309.75 1715.24 312.7 1719.31 311.75 1722.7C310.8 1726.09 304.73 1731.12 303.65 1734.1C302.57 1737.08 304.03 1737.9 305.25 1740.6C306.47 1743.3 310.27 1747.66 310.95 1750.3C311.63 1752.94 309.62 1755.42 309.35 1756.45L291.25 1756.45C290.98 1755.42 288.97 1752.94 289.65 1750.3C290.33 1747.66 294.13 1743.3 295.35 1740.6C296.57 1737.9 298.03 1737.08 296.95 1734.1C295.87 1731.12 289.8 1726.09 288.85 1722.7C287.9 1719.31 290.85 1715.24 291.25 1713.75Z" class="v" stroke-width="5.5"/>
<line x1="333.61" y1="1738.5" x2="350.74" y2="1738.5" class="med" stroke-dasharray="10.5 7.4"/>
<path d="M349.35 1685.25C348.8 1686.62 346.78 1690.22 346.05 1693.5C345.32 1696.78 344.8 1701.12 344.95 1704.9C345.1 1708.68 345.8 1712.42 346.95 1716.2C348.1 1719.98 350.77 1723.53 351.85 1727.6C352.93 1731.67 353.07 1736.28 353.45 1740.6C353.83 1744.92 354.03 1749.59 354.15 1753.5C354.27 1757.41 354.15 1762.29 354.15 1764.05L332.65 1764.05C332.65 1762.29 332.53 1757.41 332.65 1753.5C332.77 1749.59 332.97 1744.92 333.35 1740.6C333.73 1736.28 333.87 1731.67 334.95 1727.6C336.03 1723.53 338.7 1719.98 339.85 1716.2C341 1712.42 341.7 1708.68 341.85 1704.9C342 1701.12 341.48 1696.78 340.75 1693.5C340.02 1690.22 338 1686.62 337.45 1685.25Z" class="v" stroke-width="5.5"/>
<line x1="375.65" y1="1769.4" x2="394.9" y2="1769.4" class="med" stroke-dasharray="10.5 7.4"/>
<line x1="379.42" y1="1779.2" x2="393.58" y2="1779.2" class="qd"/>
<path d="M391.05 1735.55C391 1736.39 391.3 1737.88 390.75 1740.6C390.2 1743.32 387.3 1748.38 387.75 1751.9C388.2 1755.42 391.82 1758.72 393.45 1761.7C395.08 1764.68 397.55 1766.83 397.55 1769.8C397.55 1772.77 394.35 1776.86 393.45 1779.5C392.55 1782.14 392.37 1784.62 392.15 1785.65L380.85 1785.65C380.63 1784.62 380.45 1782.14 379.55 1779.5C378.65 1776.86 375.45 1772.77 375.45 1769.8C375.45 1766.83 377.92 1764.68 379.55 1761.7C381.18 1758.72 384.8 1755.42 385.25 1751.9C385.7 1748.38 382.8 1743.32 382.25 1740.6C381.7 1737.88 382 1736.39 381.95 1735.55Z" class="v" stroke-width="5.5"/>
<line x1="419.03" y1="1775" x2="437.72" y2="1775" class="med" stroke-dasharray="10.5 7.4"/>
<line x1="418.93" y1="1782" x2="440.27" y2="1782" class="qd"/>
<path d="M432.55 1743.35C432.13 1745.04 430.05 1750.17 430.05 1753.5C430.05 1756.83 431.18 1760.58 432.55 1763.3C433.92 1766.02 436.9 1767.63 438.25 1769.8C439.6 1771.97 440.38 1773.66 440.65 1776.3C440.92 1778.94 439.98 1784.09 439.85 1785.65L419.35 1785.65C419.22 1784.09 418.28 1778.94 418.55 1776.3C418.82 1773.66 419.6 1771.97 420.95 1769.8C422.3 1767.63 425.28 1766.02 426.65 1763.3C428.02 1760.58 429.15 1756.83 429.15 1753.5C429.15 1750.17 427.07 1745.04 426.65 1743.35Z" class="v" stroke-width="5.5"/>
<line x1="462.17" y1="1759.2" x2="480.78" y2="1759.2" class="med" stroke-dasharray="10.5 7.4"/>
<line x1="465.14" y1="1775" x2="480.26" y2="1775" class="qd"/>
<path d="M476.65 1704.35C476.57 1705.79 476.62 1709.67 476.15 1713C475.68 1716.33 474.3 1720.25 473.85 1724.3C473.4 1728.35 472.58 1733.5 473.45 1737.3C474.32 1741.1 477.37 1743.85 479.05 1747.1C480.73 1750.35 483.02 1753.57 483.55 1756.8C484.08 1760.03 482.85 1763.25 482.25 1766.5C481.65 1769.75 480.6 1773.91 479.95 1776.3C479.3 1778.69 478.62 1780.09 478.35 1780.85L467.05 1780.85C466.78 1780.09 466.1 1778.69 465.45 1776.3C464.8 1773.91 463.75 1769.75 463.15 1766.5C462.55 1763.25 461.32 1760.03 461.85 1756.8C462.38 1753.57 464.67 1750.35 466.35 1747.1C468.03 1743.85 471.08 1741.1 471.95 1737.3C472.82 1733.5 472 1728.35 471.55 1724.3C471.1 1720.25 469.72 1716.33 469.25 1713C468.78 1709.67 468.83 1705.79 468.75 1704.35Z" class="v" stroke-width="5.5"/>
<line x1="511.48" y1="1777.9" x2="520.12" y2="1777.9" class="med"/>
<path d="M525.25 1759.85C524.7 1760.42 523.23 1761.38 521.95 1763.3C520.67 1765.22 517.75 1768.7 517.55 1771.4C517.35 1774.1 519.67 1776.8 520.75 1779.5C521.83 1782.2 523 1785.06 524.05 1787.6C525.1 1790.14 526.55 1793.56 527.05 1794.75L504.55 1794.75C505.05 1793.56 506.5 1790.14 507.55 1787.6C508.6 1785.06 509.77 1782.2 510.85 1779.5C511.93 1776.8 514.25 1774.1 514.05 1771.4C513.85 1768.7 510.93 1765.22 509.65 1763.3C508.37 1761.38 506.9 1760.42 506.35 1759.85Z" class="v" stroke-width="5.5"/>
<line x1="549.91" y1="1754.8" x2="565.44" y2="1754.8" class="med" stroke-dasharray="10.5 7.4"/>
<line x1="547.9" y1="1768.9" x2="569.9" y2="1768.9" class="qd"/>
<path d="M561.25 1674.35C561.07 1676.74 559.95 1684.16 560.15 1688.7C560.35 1693.24 561.87 1697.28 562.45 1701.6C563.03 1705.92 563.8 1710.27 563.65 1714.6C563.5 1718.93 562.05 1723.82 561.55 1727.6C561.05 1731.38 559.83 1733.52 560.65 1737.3C561.47 1741.08 564.97 1746.52 566.45 1750.3C567.93 1754.08 568.9 1757.3 569.55 1760C570.2 1762.7 570.48 1764.46 570.35 1766.5C570.22 1768.54 569.02 1771.29 568.75 1772.25L549.05 1772.25C548.78 1771.29 547.58 1768.54 547.45 1766.5C547.32 1764.46 547.6 1762.7 548.25 1760C548.9 1757.3 549.87 1754.08 551.35 1750.3C552.83 1746.52 556.33 1741.08 557.15 1737.3C557.97 1733.52 556.75 1731.38 556.25 1727.6C555.75 1723.82 554.3 1718.93 554.15 1714.6C554 1710.27 554.77 1705.92 555.35 1701.6C555.93 1697.28 557.45 1693.24 557.65 1688.7C557.85 1684.16 556.73 1676.74 556.55 1674.35Z" class="v" stroke-width="5.5"/>
<line x1="590.75" y1="1704.6" x2="610.8" y2="1704.6" class="med" stroke-dasharray="10.5 7.4"/>
<line x1="593.14" y1="1687.9" x2="610.86" y2="1687.9" class="qd"/>
<line x1="595.8" y1="1723.3" x2="608.2" y2="1723.3" class="qd"/>
<path d="M605.05 1646.05C604.62 1648.78 602.53 1657.78 602.45 1662.4C602.37 1667.03 603.25 1670 604.55 1673.8C605.85 1677.6 608.93 1681.68 610.25 1685.2C611.57 1688.72 611.95 1691.67 612.45 1694.9C612.95 1698.13 613.48 1701.37 613.25 1704.6C613.02 1707.83 611.93 1711.05 611.05 1714.3C610.17 1717.55 608.32 1720.76 607.95 1724.1C607.58 1727.44 608.7 1732.64 608.85 1734.35L595.15 1734.35C595.3 1732.64 596.42 1727.44 596.05 1724.1C595.68 1720.76 593.83 1717.55 592.95 1714.3C592.07 1711.05 590.98 1707.83 590.75 1704.6C590.52 1701.37 591.05 1698.13 591.55 1694.9C592.05 1691.67 592.43 1688.72 593.75 1685.2C595.07 1681.68 598.15 1677.6 599.45 1673.8C600.75 1670 601.63 1667.03 601.55 1662.4C601.47 1657.78 599.38 1648.78 598.95 1646.05Z" class="v" stroke-width="5.5"/>
<line x1="639.95" y1="1766.3" x2="650.25" y2="1766.3" class="med"/>
<line x1="635.95" y1="1745.7" x2="654.25" y2="1745.7" class="qd"/>
<line x1="634.11" y1="1784.9" x2="656.09" y2="1784.9" class="qd"/>
<path d="M649.45 1728.45C649.78 1729.61 650.6 1732.34 651.45 1735.4C652.3 1738.46 654.55 1743.02 654.55 1746.8C654.55 1750.58 652.17 1754.85 651.45 1758.1C650.73 1761.35 649.83 1763.32 650.25 1766.3C650.67 1769.28 652.97 1773.03 653.95 1776C654.93 1778.97 655.88 1781.91 656.15 1784.1C656.42 1786.29 655.65 1788.31 655.55 1789.15L634.65 1789.15C634.55 1788.31 633.78 1786.29 634.05 1784.1C634.32 1781.91 635.27 1778.97 636.25 1776C637.23 1773.03 639.53 1769.28 639.95 1766.3C640.37 1763.32 639.47 1761.35 638.75 1758.1C638.03 1754.85 635.65 1750.58 635.65 1746.8C635.65 1743.02 637.9 1738.46 638.75 1735.4C639.6 1732.34 640.42 1729.61 640.75 1728.45Z" class="v" stroke-width="5.5"/>
<line x1="677.26" y1="1756.8" x2="696.69" y2="1756.8" class="med" stroke-dasharray="10.5 7.4"/>
<line x1="679.73" y1="1742.4" x2="696.67" y2="1742.4" class="qd"/>
<line x1="677.58" y1="1781.2" x2="698.82" y2="1781.2" class="qd"/>
<path d="M692.75 1722.75C693.02 1724.59 693.5 1729.79 694.35 1733.8C695.2 1737.81 697 1743.28 697.85 1746.8C698.7 1750.32 699.53 1751.38 699.45 1754.9C699.37 1758.42 697.45 1763.57 697.35 1767.9C697.25 1772.23 698.77 1777.58 698.85 1780.9C698.93 1784.23 698.02 1786.69 697.85 1787.85L678.55 1787.85C678.38 1786.69 677.47 1784.23 677.55 1780.9C677.63 1777.58 679.15 1772.23 679.05 1767.9C678.95 1763.57 677.03 1758.42 676.95 1754.9C676.87 1751.38 677.7 1750.32 678.55 1746.8C679.4 1743.28 681.2 1737.81 682.05 1733.8C682.9 1729.79 683.38 1724.59 683.65 1722.75Z" class="v" stroke-width="5.5"/>
<line x1="720.46" y1="1766.6" x2="739.69" y2="1766.6" class="med" stroke-dasharray="10.5 7.4"/>
<line x1="721.05" y1="1778" x2="741.55" y2="1778" class="qd"/>
<path d="M735.05 1747.15C735.18 1747.91 734.9 1749.88 735.85 1751.7C736.8 1753.53 739.67 1755.4 740.75 1758.1C741.83 1760.8 742.22 1764.92 742.35 1767.9C742.48 1770.88 741.68 1773.76 741.55 1776C741.42 1778.24 741.55 1780.46 741.55 1781.35L721.05 1781.35C721.05 1780.46 721.18 1778.24 721.05 1776C720.92 1773.76 720.12 1770.88 720.25 1767.9C720.38 1764.92 720.77 1760.8 721.85 1758.1C722.93 1755.4 725.8 1753.53 726.75 1751.7C727.7 1749.88 727.42 1747.91 727.55 1747.15Z" class="v" stroke-width="5.5"/>
<line x1="763.67" y1="1758.5" x2="782.68" y2="1758.5" class="med" stroke-dasharray="10.5 7.4"/>
<line x1="763.39" y1="1769" x2="785.41" y2="1769" class="qd"/>
<path d="M776.65 1668.15C776.65 1670.99 776.43 1680.74 776.65 1685.2C776.87 1689.66 777.53 1691.67 777.95 1694.9C778.37 1698.13 779.22 1700.82 779.15 1704.6C779.08 1708.38 778.05 1713.27 777.55 1717.6C777.05 1721.93 776.02 1726.82 776.15 1730.6C776.28 1734.38 777.2 1737.07 778.35 1740.3C779.5 1743.53 781.87 1746.75 783.05 1750C784.23 1753.25 784.97 1757.08 785.45 1759.8C785.93 1762.52 786.27 1763.66 785.95 1766.3C785.63 1768.94 783.95 1774.09 783.55 1775.65L765.25 1775.65C764.85 1774.09 763.17 1768.94 762.85 1766.3C762.53 1763.66 762.87 1762.52 763.35 1759.8C763.83 1757.08 764.57 1753.25 765.75 1750C766.93 1746.75 769.3 1743.53 770.45 1740.3C771.6 1737.07 772.52 1734.38 772.65 1730.6C772.78 1726.82 771.75 1721.93 771.25 1717.6C770.75 1713.27 769.72 1708.38 769.65 1704.6C769.58 1700.82 770.43 1698.13 770.85 1694.9C771.27 1691.67 771.93 1689.66 772.15 1685.2C772.37 1680.74 772.15 1670.99 772.15 1668.15Z" class="v" stroke-width="5.5"/>
<line x1="807.21" y1="1779.8" x2="825.34" y2="1779.8" class="med" stroke-dasharray="10.5 7.4"/>
<line x1="807.75" y1="1792.5" x2="827.25" y2="1792.5" class="qd"/>
<path d="M820.25 1734.35C820.32 1735.92 820.4 1739.52 820.65 1743.8C820.9 1748.08 821.2 1755.67 821.75 1760C822.3 1764.33 822.95 1766.55 823.95 1769.8C824.95 1773.05 826.98 1776.8 827.75 1779.5C828.52 1782.2 828.82 1783.38 828.55 1786C828.28 1788.62 826.55 1793.71 826.15 1795.25L808.85 1795.25C808.45 1793.71 806.72 1788.62 806.45 1786C806.18 1783.38 806.48 1782.2 807.25 1779.5C808.02 1776.8 810.05 1773.05 811.05 1769.8C812.05 1766.55 812.7 1764.33 813.25 1760C813.8 1755.67 814.1 1748.08 814.35 1743.8C814.6 1739.52 814.68 1735.92 814.75 1734.35Z" class="v" stroke-width="5.5"/>
<line x1="851.96" y1="1756" x2="869.24" y2="1756" class="med"/>
<path d="M871.45 1745.75C871.4 1746.29 871.45 1747.46 871.15 1749C870.85 1750.54 870.47 1752.62 869.65 1755C868.83 1757.38 867.28 1760.88 866.25 1763.3C865.22 1765.72 864.15 1767.62 863.45 1769.5C862.75 1771.38 861.87 1772.67 862.05 1774.6C862.23 1776.53 863.83 1779.34 864.55 1781.1C865.27 1782.86 866.05 1784.48 866.35 1785.15L854.85 1785.15C855.15 1784.48 855.93 1782.86 856.65 1781.1C857.37 1779.34 858.97 1776.53 859.15 1774.6C859.33 1772.67 858.45 1771.38 857.75 1769.5C857.05 1767.62 855.98 1765.72 854.95 1763.3C853.92 1760.88 852.37 1757.38 851.55 1755C850.73 1752.62 850.35 1750.54 850.05 1749C849.75 1747.46 849.8 1746.29 849.75 1745.75Z" class="v" stroke-width="5.5"/>
<line x1="893.77" y1="1748.4" x2="911.18" y2="1748.4" class="med" stroke-dasharray="10.5 7.4"/>
<path d="M914.75 1733.95C914.62 1735.06 914.15 1737.88 913.95 1740.6C913.75 1743.32 914.43 1747.33 913.55 1750.3C912.67 1753.27 910.08 1755.97 908.65 1758.4C907.22 1760.83 905.08 1763 904.95 1764.9C904.82 1766.8 906.97 1768.58 907.85 1769.8C908.73 1771.02 909.85 1771.84 910.25 1772.25L897.15 1772.25C897.55 1771.84 898.67 1771.02 899.55 1769.8C900.43 1768.58 902.58 1766.8 902.45 1764.9C902.32 1763 900.18 1760.83 898.75 1758.4C897.32 1755.97 894.73 1753.27 893.85 1750.3C892.97 1747.33 893.65 1743.32 893.45 1740.6C893.25 1737.88 892.78 1735.06 892.65 1733.95Z" class="v" stroke-width="5.5"/>
<line x1="935.55" y1="1760" x2="955.6" y2="1760" class="med" stroke-dasharray="10.5 7.4"/>
<line x1="939.95" y1="1775" x2="953.65" y2="1775" class="qd"/>
<path d="M951.05 1730.05C951.05 1730.99 951.43 1733.14 951.05 1735.7C950.67 1738.26 948.08 1742.43 948.75 1745.4C949.42 1748.37 953.5 1751.07 955.05 1753.5C956.6 1755.93 958.02 1757.28 958.05 1760C958.08 1762.72 956.13 1766.82 955.25 1769.8C954.37 1772.78 953.17 1775.79 952.75 1777.9C952.33 1780.01 952.75 1781.69 952.75 1782.45L940.85 1782.45C940.85 1781.69 941.27 1780.01 940.85 1777.9C940.43 1775.79 939.23 1772.78 938.35 1769.8C937.47 1766.82 935.52 1762.72 935.55 1760C935.58 1757.28 937 1755.93 938.55 1753.5C940.1 1751.07 944.18 1748.37 944.85 1745.4C945.52 1742.43 942.93 1738.26 942.55 1735.7C942.17 1733.14 942.55 1730.99 942.55 1730.05Z" class="v" stroke-width="5.5"/>
<line x1="978.99" y1="1732.8" x2="998.36" y2="1732.8" class="med" stroke-dasharray="10.5 7.4"/>
<line x1="982.99" y1="1718.2" x2="996.81" y2="1718.2" class="qd"/>
<line x1="984.12" y1="1748.4" x2="995.68" y2="1748.4" class="qd"/>
<path d="M993.25 1703.05C993.48 1704.16 993.93 1706.69 994.65 1709.7C995.37 1712.71 996.5 1717.17 997.55 1721.1C998.6 1725.03 1001.17 1729.52 1000.95 1733.3C1000.73 1737.08 997.2 1740.7 996.25 1743.8C995.3 1746.9 995.23 1749.98 995.25 1751.9C995.27 1753.83 996.17 1754.77 996.35 1755.35L983.45 1755.35C983.63 1754.77 984.53 1753.83 984.55 1751.9C984.57 1749.98 984.5 1746.9 983.55 1743.8C982.6 1740.7 979.07 1737.08 978.85 1733.3C978.63 1729.52 981.2 1725.03 982.25 1721.1C983.3 1717.17 984.43 1712.71 985.15 1709.7C985.87 1706.69 986.32 1704.16 986.55 1703.05Z" class="v" stroke-width="5.5"/>
<line x1="1026.66" y1="1757.1" x2="1039.34" y2="1757.1" class="med"/>
<line x1="1021.87" y1="1779" x2="1044.13" y2="1779" class="qd"/>
<path d="M1039.05 1722.55C1038.77 1723.92 1037.23 1727.79 1037.35 1730.8C1037.47 1733.81 1039.15 1737.35 1039.75 1740.6C1040.35 1743.85 1041.13 1747.07 1040.95 1750.3C1040.77 1753.53 1038.6 1756.75 1038.65 1760C1038.7 1763.25 1040.32 1766.82 1041.25 1769.8C1042.18 1772.78 1043.88 1775.79 1044.25 1777.9C1044.62 1780.01 1043.58 1781.69 1043.45 1782.45L1022.55 1782.45C1022.42 1781.69 1021.38 1780.01 1021.75 1777.9C1022.12 1775.79 1023.82 1772.78 1024.75 1769.8C1025.68 1766.82 1027.3 1763.25 1027.35 1760C1027.4 1756.75 1025.23 1753.53 1025.05 1750.3C1024.87 1747.07 1025.65 1743.85 1026.25 1740.6C1026.85 1737.35 1028.53 1733.81 1028.65 1730.8C1028.77 1727.79 1027.23 1723.92 1026.95 1722.55Z" class="v" stroke-width="5.5"/>
<line x1="1069.83" y1="1766.5" x2="1082.37" y2="1766.5" class="med"/>
<line x1="1065.53" y1="1781" x2="1086.67" y2="1781" class="qd"/>
<path d="M1084.75 1736.55C1084.33 1737.22 1083.32 1738.31 1082.25 1740.6C1081.18 1742.89 1078.62 1747.07 1078.35 1750.3C1078.08 1753.53 1079.83 1756.75 1080.65 1760C1081.47 1763.25 1082.28 1766.82 1083.25 1769.8C1084.22 1772.78 1085.8 1775.39 1086.45 1777.9C1087.1 1780.41 1087.03 1783.69 1087.15 1784.85L1065.05 1784.85C1065.17 1783.69 1065.1 1780.41 1065.75 1777.9C1066.4 1775.39 1067.98 1772.78 1068.95 1769.8C1069.92 1766.82 1070.73 1763.25 1071.55 1760C1072.37 1756.75 1074.12 1753.53 1073.85 1750.3C1073.58 1747.07 1071.02 1742.89 1069.95 1740.6C1068.88 1738.31 1067.87 1737.22 1067.45 1736.55Z" class="v" stroke-width="5.5"/>
<path d="M1122.65 1707.35C1122.7 1709.11 1123.17 1713.44 1122.95 1717.9C1122.73 1722.36 1121.73 1729.23 1121.35 1734.1C1120.97 1738.97 1120.25 1743.32 1120.65 1747.1C1121.05 1750.88 1122.48 1753.83 1123.75 1756.8C1125.02 1759.77 1127.12 1762.47 1128.25 1764.9C1129.38 1767.33 1130.32 1769.96 1130.55 1771.4C1130.78 1772.84 1129.8 1773.19 1129.65 1773.55L1108.75 1773.55C1108.6 1773.19 1107.62 1772.84 1107.85 1771.4C1108.08 1769.96 1109.02 1767.33 1110.15 1764.9C1111.28 1762.47 1113.38 1759.77 1114.65 1756.8C1115.92 1753.83 1117.35 1750.88 1117.75 1747.1C1118.15 1743.32 1117.43 1738.97 1117.05 1734.1C1116.67 1729.23 1115.67 1722.36 1115.45 1717.9C1115.23 1713.44 1115.7 1709.11 1115.75 1707.35Z" class="v" stroke-width="5.5"/>
<line x1="1153.89" y1="1768.5" x2="1170.71" y2="1768.5" class="med"/>
<path d="M1164.55 1738.45C1164.48 1739.34 1163.7 1741.56 1164.15 1743.8C1164.6 1746.04 1167.38 1749.33 1167.25 1751.9C1167.12 1754.47 1162.98 1756.77 1163.35 1759.2C1163.72 1761.63 1167.83 1764.33 1169.45 1766.5C1171.07 1768.67 1172.45 1770.89 1173.05 1772.2C1173.65 1773.51 1173.05 1773.99 1173.05 1774.35L1151.55 1774.35C1151.55 1773.99 1150.95 1773.51 1151.55 1772.2C1152.15 1770.89 1153.53 1768.67 1155.15 1766.5C1156.77 1764.33 1160.88 1761.63 1161.25 1759.2C1161.62 1756.77 1157.48 1754.47 1157.35 1751.9C1157.22 1749.33 1160 1746.04 1160.45 1743.8C1160.9 1741.56 1160.12 1739.34 1160.05 1738.45Z" class="v" stroke-width="5.5"/>
<path d="M1215.65 1742.95C1215 1743.64 1213.18 1745.19 1211.75 1747.1C1210.32 1749.01 1206.92 1751.97 1207.05 1754.4C1207.18 1756.83 1210.97 1759.73 1212.55 1761.7C1214.13 1763.67 1215.88 1765.49 1216.55 1766.25L1194.25 1766.25C1194.92 1765.49 1196.67 1763.67 1198.25 1761.7C1199.83 1759.73 1203.62 1756.83 1203.75 1754.4C1203.88 1751.97 1200.48 1749.01 1199.05 1747.1C1197.62 1745.19 1195.8 1743.64 1195.15 1742.95Z" class="v" stroke-width="5.5"/>
<line x1="1237.91" y1="1719.8" x2="1256.64" y2="1719.8" class="med" stroke-dasharray="10.5 7.4"/>
<line x1="1241.68" y1="1752.2" x2="1255.32" y2="1752.2" class="qd"/>
<path d="M1254.95 1679.75C1254.63 1681.24 1253.77 1685.59 1253.05 1688.7C1252.33 1691.81 1250.33 1695.17 1250.65 1698.4C1250.97 1701.63 1253.47 1704.32 1254.95 1708.1C1256.43 1711.88 1258.92 1716.77 1259.55 1721.1C1260.18 1725.43 1259.38 1729.77 1258.75 1734.1C1258.12 1738.43 1256.43 1742.78 1255.75 1747.1C1255.07 1751.42 1254.83 1755.88 1254.65 1760C1254.47 1764.12 1254.65 1769.88 1254.65 1771.85L1242.35 1771.85C1242.35 1769.88 1242.53 1764.12 1242.35 1760C1242.17 1755.88 1241.93 1751.42 1241.25 1747.1C1240.57 1742.78 1238.88 1738.43 1238.25 1734.1C1237.62 1729.77 1236.82 1725.43 1237.45 1721.1C1238.08 1716.77 1240.57 1711.88 1242.05 1708.1C1243.53 1704.32 1246.03 1701.63 1246.35 1698.4C1246.67 1695.17 1244.67 1691.81 1243.95 1688.7C1243.23 1685.59 1242.37 1681.24 1242.05 1679.75Z" class="v" stroke-width="5.5"/>
<path d="M1293.85 1719.35C1293.53 1720.72 1292.18 1721.91 1291.95 1727.6C1291.72 1733.29 1292.25 1747.02 1292.45 1753.5C1292.65 1759.98 1292.33 1762.98 1293.15 1766.5C1293.97 1770.02 1295.88 1772.17 1297.35 1774.6C1298.82 1777.03 1301.03 1779.34 1301.95 1781.1C1302.87 1782.86 1302.7 1784.48 1302.85 1785.15L1280.35 1785.15C1280.5 1784.48 1280.33 1782.86 1281.25 1781.1C1282.17 1779.34 1284.38 1777.03 1285.85 1774.6C1287.32 1772.17 1289.23 1770.02 1290.05 1766.5C1290.87 1762.98 1290.55 1759.98 1290.75 1753.5C1290.95 1747.02 1291.48 1733.29 1291.25 1727.6C1291.02 1721.91 1289.67 1720.72 1289.35 1719.35Z" class="v" stroke-width="5.5" style="fill:#000"/>
<ellipse cx="1291.6" cy="1776.6" rx="1.6" ry="2.4" fill="#fff"/>
<ellipse cx="1292.2" cy="1779" rx="3.4" ry="1.5" fill="#fff"/>
<line x1="1326.56" y1="1768.5" x2="1342.84" y2="1768.5" class="med"/>
<line x1="1328.55" y1="1745.4" x2="1340.85" y2="1745.4" class="qd"/>
<line x1="1324.23" y1="1778" x2="1345.17" y2="1778" class="qd"/>
<path d="M1341.45 1738.75C1341.35 1739.86 1341.68 1742.39 1340.85 1745.4C1340.02 1748.41 1336.27 1753.28 1336.45 1756.8C1336.63 1760.32 1340.43 1763.53 1341.95 1766.5C1343.47 1769.47 1345.12 1772.21 1345.55 1774.6C1345.98 1776.99 1344.72 1779.81 1344.55 1780.85L1324.85 1780.85C1324.68 1779.81 1323.42 1776.99 1323.85 1774.6C1324.28 1772.21 1325.93 1769.47 1327.45 1766.5C1328.97 1763.53 1332.77 1760.32 1332.95 1756.8C1333.13 1753.28 1329.38 1748.41 1328.55 1745.4C1327.72 1742.39 1328.05 1739.86 1327.95 1738.75Z" class="v" stroke-width="5.5"/>
<line x1="1368.66" y1="1779" x2="1384.49" y2="1779" class="med" stroke-dasharray="10.5 7.4"/>
<path d="M1380.35 1752.75C1380.07 1753.96 1378.52 1757.71 1378.65 1760C1378.78 1762.29 1380.07 1764.07 1381.15 1766.5C1382.23 1768.93 1383.93 1771.9 1385.15 1774.6C1386.37 1777.3 1387.77 1780.67 1388.45 1782.7C1389.13 1784.73 1389.12 1786.08 1389.25 1786.75L1366.35 1786.75C1366.48 1786.08 1366.47 1784.73 1367.15 1782.7C1367.83 1780.67 1369.23 1777.3 1370.45 1774.6C1371.67 1771.9 1373.37 1768.93 1374.45 1766.5C1375.53 1764.07 1376.82 1762.29 1376.95 1760C1377.08 1757.71 1375.53 1753.96 1375.25 1752.75Z" class="v" stroke-width="5.5"/>
</svg></body></html>
